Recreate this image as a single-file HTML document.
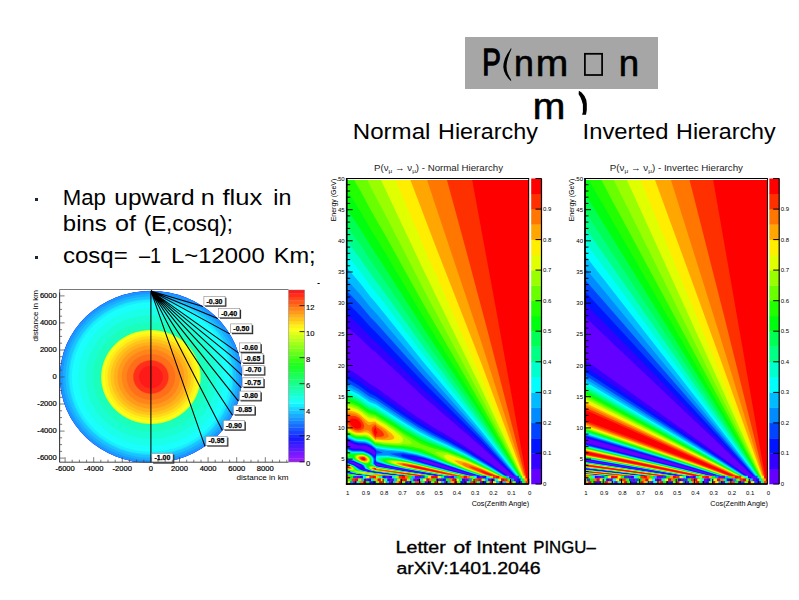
<!DOCTYPE html>
<html><head><meta charset="utf-8"><title>slide</title>
<style>
html,body{margin:0;padding:0;background:#fff;}
body{width:799px;height:600px;overflow:hidden;position:relative;}
svg{position:absolute;left:0;top:0;font-family:"Liberation Sans", sans-serif;}
</style></head><body>
<svg width="799" height="600" viewBox="0 0 799 600">
<rect x="465" y="37" width="193" height="52" fill="#a6a6a6"/>
<rect x="584.9" y="53.8" width="17.2" height="21.2" fill="none" stroke="#000" stroke-width="1.75"/>
<path d="M511.2,47.8L509.6,50.5L507.2,54L505,58.5L503.6,63.5L503.3,67L504,71L505.8,75L508.3,78.5L511.2,81.2L511,79.5L509.5,77L507.8,73.5L506.8,70L506.5,66L507,62L508.2,57.5L509.8,53L511.3,49.5Z"/>
<path d="M578.9,90.8L581.6,92.6L584.5,96L586.3,100L586.8,104L586.8,110L586,114.8L582.1,114.8L582.9,112L582.9,104.5L581.7,100.5L580.3,97L578.6,94.3Z"/>
<text transform="matrix(0.7756,0,0,1.0151,482.15,75.04)" font-size="36" stroke="#000" stroke-width="1.3">P</text>
<text transform="matrix(0.9937,0,0,1.0150,513.91,75.55)" font-size="36" stroke="#000" stroke-width="0.6">n</text>
<text transform="matrix(1.0846,0,0,1.0150,535.83,75.55)" font-size="36" stroke="#000" stroke-width="0.6">m</text>
<text transform="matrix(1.0188,0,0,1.0150,618.86,75.55)" font-size="36" stroke="#000" stroke-width="0.6">n</text>
<text transform="matrix(1.0846,0,0,1.0250,532.63,118.74)" font-size="36" stroke="#000" stroke-width="0.6">m</text>
<text transform="matrix(1.1255,0,0,1.0000,352.83,138.70)" font-size="21.4">Normal</text>
<text transform="matrix(1.0897,0,0,1.0000,438.09,138.70)" font-size="21.4">Hierarchy</text>
<text transform="matrix(1.1108,0,0,0.9950,582.58,138.72)" font-size="21.4">Inverted</text>
<text transform="matrix(1.0886,0,0,0.9950,676.09,138.72)" font-size="21.4">Hierarchy</text>
<text transform="matrix(1.0318,0,0,1.0000,62.69,205.00)" font-size="21.5">Map</text>
<text transform="matrix(1.1395,0,0,1.0000,114.29,205.00)" font-size="21.5">upward</text>
<text transform="matrix(1.1667,0,0,1.0000,200.75,205.00)" font-size="21.5">n</text>
<text transform="matrix(1.1879,0,0,1.0000,222.50,205.00)" font-size="21.5">flux</text>
<text transform="matrix(1.0836,0,0,1.0000,273.27,205.00)" font-size="21.5">in</text>
<text transform="matrix(1.1141,0,0,1.0300,62.83,230.87)" font-size="21.5">bins</text>
<text transform="matrix(1.1706,0,0,1.0300,115.03,230.87)" font-size="21.5">of</text>
<text transform="matrix(1.0381,0,0,1.0300,143.80,230.87)" font-size="21.5">(E,cosq);</text>
<text transform="matrix(1.1179,0,0,0.9897,62.98,262.95)" font-size="21.5">cosq=</text>
<text transform="matrix(0.9275,0,0,0.9897,138.90,262.95)" font-size="21.5">–1</text>
<text transform="matrix(1.1107,0,0,0.9897,171.06,262.95)" font-size="21.5">L~12000</text>
<text transform="matrix(1.0986,0,0,0.9897,273.68,262.95)" font-size="21.5">Km;</text>
<text transform="matrix(1.1550,0,0,0.9846,395.56,552.55)" font-size="17" stroke="#000" stroke-width="0.35">Letter</text>
<text transform="matrix(1.2364,0,0,0.9846,453.38,552.55)" font-size="17" stroke="#000" stroke-width="0.35">of</text>
<text transform="matrix(1.1683,0,0,0.9846,476.35,552.55)" font-size="17" stroke="#000" stroke-width="0.35">Intent</text>
<text transform="matrix(0.9880,0,0,0.9846,533.27,552.55)" font-size="17" stroke="#000" stroke-width="0.35">PINGU–</text>
<text transform="matrix(1.1440,0,0,0.9615,396.43,574.26)" font-size="17" stroke="#000" stroke-width="0.35">arXiV:1401.2046</text>
<rect x="35" y="198" width="3" height="3" fill="#1c2733"/>
<rect x="35" y="256" width="3" height="3" fill="#1c2733"/>
<rect x="346.7" y="180" width="182" height="304" fill="#6300ff"/>
<path fill="#3300ff" d="M346.9,180 528.7,180 528.7,484 521.7,484 481.4,446.8 423.4,396.8 375.9,352.6 369.9,347.7 359.9,337.7 346.7,326.4ZM346.9,367.9 358.9,375.5 369.9,384.1 376,387.4 402.9,407.1 417.9,417.5 432,426.4 448,435.8 465.4,446.7 491.9,464.6 519.5,484 505.6,484 465.9,472.6 429.6,461.3 423.9,459.8 418.9,459.2 418.2,459.3 419.4,460.3 424.4,462.3 447.7,469.3 502.9,483.5 503.3,484 489.5,484 487.9,483.7 487.2,484 473.3,484 471.9,483.7 471,484 457.1,484 455.9,483.7 454.9,484 441,484 439.9,483.7 438.7,484 424.9,484 423.9,483.7 408.7,484 407.4,483.7 406.5,484 392.6,484 391.4,483.7 390.3,484 376.5,484 375.4,483.7 374.4,484 360.8,484 359.9,483.7 358.6,484 346.7,484 346.7,483.3 348.4,483.3 346.7,483.2 346.7,478.8 348.8,478.8 346.7,478.7 346.7,476.4 348.3,476.3 346.7,476.2 346.7,471.9 347.5,471.8 346.7,471.4 346.7,446.1 352.8,448.4 359.9,448.4 363.4,449 369.4,451.7 374.4,455.1 375,454.8 375.4,453.4 374.9,451.5 373.9,450.3 368.8,446.9 365.4,445.8 359.9,445.7 355.4,444.8 346.7,441.2ZM349.5,461.8 350.4,463 354.4,464.6 356.6,465.8 360.4,467.2 361.2,466.8 360.3,465.3 354.2,462.3 350.9,461.4 349.9,461.4ZM375.6,462.8 375.4,463.8 376.4,465.5 388,467.8 467.9,480.8 474.3,481.3 402.4,469.1 386.9,466 376.4,463.5 375.9,462.7ZM362.5,469.3 365,470.8 375.5,472.8 418.2,477.8 422.4,478.1 422.5,477.8 375.4,472.1 367.9,470.5 363.5,469.2ZM474.3,481.8 477.3,481.8 474.4,481.5Z"/>
<path fill="#0014ff" d="M346.9,180 528.7,180 528.7,484 522.3,484 481.4,443.3 423.2,389.1 376,341.9 369.9,336.6 359.9,325.9 346.7,313.6ZM346.9,374.3 359,381.4 369.8,389.6 376,392.7 402.9,411.6 417.8,421.5 431.8,429.9 447.9,438.8 465.4,449.1 491.4,465.6 519,484 506.1,484 465.4,472 425.7,459.3 417.2,457.3 409.9,456.5 408.1,456.8 411.8,458.8 425.3,463.3 447.9,469.8 502,483.5 502.8,484 490,484 409.4,470 382.4,464.5 376.4,462.9 375.4,461.6 374.7,462.8 375.1,464.3 376.4,465.9 378.5,466.3 404,470.8 485.9,483.5 486.7,484 473.8,484 471.4,483.6 470.5,484 457.6,484 455.4,483.7 454.4,484 441.5,484 439.4,483.7 438.2,484 425.4,484 423.4,483.7 422.1,484 409.2,484 407.4,483.7 406,484 393.1,484 391.4,483.7 389.8,484 377,484 375.9,483.7 373.9,484 361.3,484 360.4,483.6 358.1,484 346.7,484 346.7,483.4 348.9,483.3 346.7,483.2 346.7,480.3 347.5,480.3 346.7,480.2 346.7,478.8 349.6,478.8 346.7,478.7 346.7,476.5 358,477.8 363.9,477.8 346.7,476.1 346.7,472.5 350.8,473.8 366.4,475.8 403.2,479.3 408.7,479.3 378,476.5 360.4,474.5 350.5,472.7 346.7,470.8 346.7,447 352.9,449.4 360.4,449.6 363.9,450.2 369.4,452.6 374.9,456.7 375.5,456.1 376,453.4 375.7,451.4 374.7,449.9 371.9,447.6 368.9,445.8 364.9,444.6 359.4,444.3 355.4,443.5 346.7,440ZM349.4,460.8 348.2,461.3 348,461.8 350.1,463.3 354.9,465.3 362.7,470.3 368.4,471.8 378.2,473.3 434.8,479.8 452.6,481.8 456.9,481.8 373.4,471.5 365.5,469.5 363.5,468.3 362,465.8 360.6,464.8 352.9,461.3Z"/>
<path fill="#0044ff" d="M346.9,180 528.7,180 528.7,484 522.6,484 481.4,440.3 424,383.1 375.9,332.2 370.2,326.8 359.9,315.2 346.7,302.1ZM346.9,378.8 358.4,385.3 369.8,393.5 375.9,396.5 402.9,414.9 417.8,424.4 432.5,432.9 447.9,440.9 465.9,451 491.4,466.5 518.6,484 506.5,484 465.4,471.6 423.9,458.1 411.9,455.4 403,454.2 401,454.8 400.7,455.3 401.9,456.3 404.2,457.3 423.6,463.3 448.6,470.3 501.9,483.6 502.4,484 490.3,484 402.9,468.6 387.4,465.4 376.4,462.5 375.4,460 374.9,460.2 374.2,463.3 375.1,464.8 376.4,466.2 377.1,466.3 402.8,470.8 485.4,483.5 486.3,484 474.2,484 470.4,483.5 470.1,484 458,484 455.4,483.6 454,484 441.9,484 439.4,483.7 437.8,484 425.8,484 423.4,483.7 421.7,484 409.6,484 407.9,483.7 405.6,484 393.5,484 391.9,483.7 389.4,484 377.4,484 376,483.6 373.5,484 361.7,484 360.9,483.6 357.7,484 346.7,484 346.7,483.5 349.3,483.3 346.7,483.1 346.7,480.3 348.1,480.3 346.7,480.2 346.7,478.9 350.2,478.8 346.7,478.6 346.7,476.6 375.5,479.3 383.9,479.8 388.8,479.8 365.4,478 346.7,475.9 346.7,472.8 350,473.8 356.4,474.8 379.9,477.3 425.3,481.3 431,481.3 378.9,476.5 361.4,474.5 352.9,473 350.4,472.4 346.7,470.6 346.7,462.3 354.4,465.4 361.9,470.3 370.4,472.3 465.6,483.3 470,483.3 374.4,471.5 365.4,469.1 363.9,467.8 362.8,465.8 361.6,464.8 353.4,461.1 349.9,460.3 346.7,461.1 346.7,447.8 350.1,449.4 353,450.2 360.5,450.3 364.4,451 370.4,453.9 372.7,455.8 374.9,458.7 375.4,458.2 375.9,456 376.3,452.4 376,450.5 374.9,449.2 371.9,446.7 368.8,444.9 364.9,443.7 358.9,443.2 354.9,442.5 346.7,439.1Z"/>
<path fill="#008bff" d="M346.9,180 528.7,180 528.7,484 523,484 481.4,437.3 424,376.6 375.9,322.7 370.4,317.2 360,304.7 346.7,290.8ZM346.9,382.5 358.4,388.7 369.4,396.6 375.9,399.6 403,417.6 418.7,427.4 432.3,434.9 448,442.7 465.5,452.1 490.9,467 518.2,484 506.8,484 465.4,471.3 423.9,457.4 414.9,455.1 405.5,453.4 402.9,453 389.9,453.4 391.6,454.3 402.9,457.8 447.5,470.3 501.5,483.6 502.1,484 490.7,484 402.9,468.4 387.4,465.1 376.5,462 375.9,458.8 376.4,453.8 382.5,452.9 382.3,452.4 376.4,450.3 375.4,448.8 372.9,446.6 367.9,443.7 364.9,442.8 358.9,442.4 354.9,441.6 346.7,438.2ZM346.9,448.4 349.9,450 352.9,450.9 360.4,450.9 363.9,451.4 369.4,453.9 371.9,455.8 373.5,457.8 374.1,459.8 373.8,463.8 376.4,466.4 405,471.3 485,483.5 485.9,484 474.5,484 386.4,473 375.4,471.6 370.4,470.5 365.4,468.8 363.5,465.8 362.3,464.8 353.9,460.9 349.9,459.8 346.7,460.5ZM346.9,462.8 354.4,465.7 361.2,470.3 369.6,472.3 393.5,475.3 468.9,483.5 469.8,484 458.4,484 454.9,483.6 453.9,483.6 453.6,484 442.2,484 439.4,483.6 437.5,484 426.1,484 423.4,483.6 421.4,484 410,484 407.9,483.7 405.2,484 393.8,484 391.9,483.6 389.1,484 377.7,484 377.4,483.6 376.4,483.6 373.2,484 362,484 362.4,483.6 366.5,483.3 364.9,483.1 361.5,483.3 357.4,484 346.7,484 346.7,483.6 349.7,483.3 346.7,483.1 346.7,480.4 348.5,480.3 346.7,480.2 346.7,478.9 358.4,479.8 364.5,479.8 346.7,478.6 346.7,476.8 395.6,480.8 402.5,480.8 377.4,478.9 350.4,476.3 346.7,475.8 346.7,473.1 355.7,474.8 379.2,477.3 442.1,482.8 447.6,482.8 379.9,476.5 355.9,473.5 350.4,472.2 346.7,470.3Z"/>
<path fill="#00bbff" d="M346.9,180 528.7,180 528.7,484 523.3,484 481.5,434.2 423.7,369.6 375.9,313.1 370.4,307.2 360.4,294.7 346.7,279.4ZM346.9,385.7 358.4,391.7 369.4,399.4 375.9,402.2 402.9,420 418.5,429.4 432.5,436.9 447.9,444.2 465.4,453.2 491.4,468 517.9,484 507.1,484 465.4,471 429.9,458.6 417.4,454.9 402.9,452 385.4,450.7 376.5,448.9 371.4,444.8 367.9,442.9 364.9,442.1 358.9,441.6 354.9,440.9 346.7,437.4ZM346.9,449 351.9,451.3 362.9,451.7 369,454.1 371.3,455.8 372.9,457.8 373.5,459.8 373.3,463.8 376.4,466.6 404.1,471.3 485,483.6 485.6,484 474.8,484 386.9,473 376,471.5 370.9,470.5 365.5,468.5 364.1,465.8 363.1,464.8 353.9,460.5 349.9,459.4 346.7,460ZM376.5,455.2 387.4,455.1 396.9,457 448.5,470.8 501,483.5 501.8,484 491,484 407.4,469.1 390.4,465.5 376.4,461.4 376.1,458.8ZM346.9,463.2 353.9,465.7 358.6,469.3 360.5,470.3 368.9,472.3 392.8,475.3 468.5,483.5 469.5,484 458.7,484 458.4,483.7 453.5,483.5 453.3,484 442.6,484 439,483.6 437.4,483.7 437.2,484 426.4,484 423.4,483.6 421.1,484 410.3,484 407.9,483.6 404.9,484 394.2,484 393.9,483.7 392.4,483.6 388.8,484 378,484 377.9,483.5 372.9,484 362.3,484 362.9,483.6 366.8,483.3 364.9,483.1 361.2,483.3 357.1,484 346.7,484 346.7,483.7 350.4,483 355.7,482.8 351.5,482.6 346.7,483.1 346.7,480.4 349,480.3 346.7,480.2 346.7,479 372.9,480.8 379.5,480.8 346.7,478.5 346.7,476.8 388.1,480.3 416.9,482.3 422.7,482.3 378.4,479 351.4,476.4 346.7,475.7 346.7,473.3 355,474.8 378.6,477.3 447.9,483.3 453.3,483.3 376.4,476 355.9,473.4 350.4,472 346.7,470.1Z"/>
<path fill="#00fffc" d="M346.9,180 528.7,180 528.7,484 523.6,484 481.4,431 424.1,363.1 375.9,303 370.4,296.8 360.4,283.6 346.7,267.4ZM346.9,388.5 358.4,394.3 369.4,402 375.9,404.6 403,422.1 418.6,431.4 432.2,438.4 447.9,445.5 465.4,454.2 491.5,468.6 517.6,484 507.4,484 465.4,470.7 447.9,464.7 429,457.7 417.4,454.2 403,451.2 385.4,449.6 376.4,447.9 370.9,443.8 367.9,442.2 364.9,441.3 358.9,440.9 354.9,440.2 346.7,436.6ZM346.9,449.5 349.9,451.2 351.9,451.9 362.4,452.1 364.4,452.5 368.4,454.3 370.9,456.2 372.6,458.3 373,460.3 372.6,463.3 373,464.3 376.4,466.8 403.2,471.3 484.4,483.6 485.3,484 475.1,484 391.4,473.5 371.9,470.6 365.8,468.3 364.4,465.5 363.7,464.8 355.9,461.4 353.4,459.9 349.9,459 346.7,459.6ZM376.9,456.3 387.4,456.1 398.9,458.1 447.6,470.8 500.9,483.6 501.5,484 491.3,484 410.9,469.5 395.4,466.4 387,464.4 376.5,460.8 376.3,457.3 376.4,456.4ZM346.9,463.5 349.4,464.1 353.9,466 357.9,469.3 359.8,470.3 368.3,472.3 387.7,474.8 467.9,483.5 469.2,484 459,484 458.4,483.7 376.4,476 356.9,473.4 350.4,471.7 348.9,470.7 346.7,469.9ZM346.9,473.4 354.3,474.8 378,477.3 451.9,483.5 453,484 442.8,484 442.4,483.7 438.4,483.6 436.9,483.7 436.9,484 426.7,484 426.4,483.7 423.4,483.6 420.9,483.7 420.8,484 410.6,484 410.4,483.7 407.9,483.6 404.9,483.7 404.6,484 394.5,484 392.9,483.6 388.9,483.7 388.5,484 378.3,484 378.9,483.6 384.1,483.3 381.9,483.1 372.9,483.7 372.6,484 362.6,484 362.9,483.7 367.1,483.3 365.9,483 360.9,483.2 356.8,484 346.7,484 346.7,483.7 350.9,483.1 356,482.8 351.4,482.6 346.7,483 346.7,480.5 349.4,480.3 346.7,480.1 346.7,479 388.4,481.8 395.4,481.8 346.7,478.5 346.7,476.9 374.4,479.3 423.4,482.8 429.7,482.8 378.9,478.9 355.9,476.8 346.7,475.6Z"/>
<path fill="#00ffcc" d="M346.9,180 528.7,180 528.7,484 523.9,484 481.4,427.7 424,355.7 375.9,292.3 370.4,285.7 360.4,271.7 346.7,254.6ZM346.9,391.1 358.4,396.6 369.4,404.2 375.9,406.7 376.4,407.3 402.9,424 419,433.4 432,439.9 448,446.8 465.5,455.1 490.4,468.5 517.4,484 507.7,484 465.4,470.5 447.9,464.3 429.4,457.2 417.9,453.6 402.9,450.4 385.4,448.6 375.9,447 371.4,443.4 367.9,441.5 364.9,440.6 358.9,440.2 354.9,439.5 346.7,435.8ZM346.9,450 349.9,451.8 352,452.5 362.4,452.5 364.4,452.9 368.4,454.8 370.9,456.8 372.2,458.8 372.5,460.3 372.1,463.3 372.4,464.3 376.4,467 402.9,471.4 484.4,483.6 485.1,484 475.4,484 474.9,483.7 391.9,473.4 372.4,470.6 367.2,468.8 365.4,467.4 364.9,465.6 363.9,464.5 355.9,461.1 353.4,459.5 349.9,458.6 346.7,459.2ZM381.4,456.8 388.9,457 402.9,459.4 448.8,471.3 500.4,483.5 501.2,484 491.6,484 411.4,469.5 395.9,466.3 384.5,463.3 379.1,461.3 376.4,459.8 376.4,457.7ZM346.9,463.7 348.9,464.1 353.9,466.3 357.3,469.3 359.2,470.3 367.6,472.3 387,474.8 467.9,483.6 468.9,484 459.3,484 458.4,483.7 376.5,475.9 357.4,473.4 351.3,471.8 346.7,469.8ZM346.9,473.6 353.9,474.8 377.5,477.3 451.9,483.6 452.7,484 443.1,484 442.4,483.7 437.4,483.5 436.6,484 427,484 426.4,483.7 422.9,483.6 420.9,483.6 420.5,484 410.9,484 410.4,483.7 408,483.6 404.9,483.7 404.4,484 394.7,484 394.4,483.5 393.9,483.5 389,483.7 388.2,484 378.6,484 379.4,483.6 384.4,483.3 381.9,483.1 377.9,483.2 372.3,484 362.9,484 363.4,483.6 367.9,483 374.4,482.8 370.9,482.6 360.9,483.2 356.5,484 347.2,484 351.4,483.1 356.3,482.8 351.9,482.6 346.7,483 346.7,481.8 354.7,481.8 346.7,481.7 346.7,480.5 359.4,481.4 366.4,481.3 346.7,480.1 346.7,479.1 396.4,482.3 403.6,482.3 346.7,478.4 346.7,476.9 374.4,479.3 430.4,483.4 436.6,483.3 379.4,478.9 356.4,476.8 346.7,475.5Z"/>
<path fill="#00ff85" d="M346.9,180 528.7,180 528.7,484 524.1,484 481.4,424 424.8,348.7 383.9,291.7 370.4,273.6 360.4,259 346.7,240.8ZM346.9,393.4 357.9,398.5 369.4,406.4 375.9,408.6 376.4,409.3 403,425.9 418.9,435.1 431.5,441.1 447.9,447.9 465.4,456 490.4,469 517.1,484 508,484 465.4,470.2 447.9,463.9 429.5,456.5 417.4,452.7 402.9,449.5 385.4,447.8 375.9,446.3 370.9,442.3 367.9,440.7 364.9,439.9 359.4,439.6 355.5,438.9 346.7,435.1ZM346.9,450.5 349.9,452.4 351.9,453.1 362.4,452.9 364.4,453.3 367.9,454.9 370.4,456.8 371.8,458.8 372,460.3 371.5,463.3 371.7,464.3 376.4,467.2 404.9,471.8 484,483.6 484.8,484 475.7,484 474.9,483.7 396.4,473.9 372.9,470.6 367.8,468.8 366.4,467.8 364.4,464.4 355.9,460.8 353.5,459.1 349.9,458.2 346.7,458.8ZM380.9,457.8 387.9,457.5 402.9,459.9 448,471.3 500.5,483.6 500.9,484 491.8,484 402.9,467.7 388.7,464.3 381.6,461.8 378.9,460.3 378.1,459.3 378.8,458.3ZM347,463.9 349.4,464.5 353.5,466.3 354.9,467.3 356.4,469.1 358.5,470.3 367.4,472.4 386.4,474.8 467.4,483.6 468.6,484 459.5,484 458.9,483.7 376.4,475.8 357.9,473.4 351.9,471.8 346.7,469.6ZM346.9,473.8 353.9,474.9 376.9,477.3 451.4,483.6 452.5,484 443.4,484 442.4,483.6 367.9,477.9 346.7,475.4ZM346.9,477 374.4,479.4 435.4,483.5 436.3,484 427.3,484 426.4,483.6 422.9,483.5 420.4,483.7 420.2,484 411.1,484 410.9,483.7 408.4,483.5 404.9,483.6 404.1,484 395,484 395.4,483.6 402.1,483.3 398.4,483.1 388.9,483.6 388,484 378.9,484 379.4,483.6 384.7,483.3 382.9,483 377.9,483.1 372.1,484 363.2,484 363.4,483.7 368.5,483.1 374.7,482.8 371.4,482.6 360.9,483.2 356.3,484 347.4,484 348.4,483.6 356.9,482.6 364.8,482.3 357.4,482.1 346.7,483 346.7,481.9 355,481.8 346.7,481.6 346.7,480.6 367.9,481.9 375.2,481.8 346.7,480.1 346.7,479.1 404.5,482.9 411.7,482.8 346.7,478.4Z"/>
<path fill="#00ff55" d="M346.9,180 528.7,180 528.7,484 524.4,484 481.4,420 424.9,340.2 384.4,280.4 370.5,260.5 360.5,244.9 346.7,225.7ZM346.9,395.6 357.9,400.6 369.4,408.4 375.9,410.5 376.4,411.1 392.9,421.1 402.9,427.7 419.4,437.1 431.4,442.6 447.9,449 465.4,456.8 490.5,469.5 516.8,484 508.2,484 465.4,469.9 447.6,463.3 430.4,456.2 419.9,452.5 402.9,448.7 393.9,448 375.9,445.6 370.9,441.6 367.9,440 364.9,439.1 359.4,438.9 355.4,438.2 346.7,434.3ZM346.9,451 350,453.1 351.9,453.8 362,453.3 364.4,453.7 367.4,455.1 369.9,456.8 371.3,458.8 371.5,460.8 370.8,463.3 370.9,464.3 376.4,467.3 404.1,471.8 483.9,483.6 484.5,484 475.9,484 475.4,483.7 400.9,474.4 373.4,470.6 368.3,468.8 367,467.8 366.3,465.8 364.9,464.3 355.9,460.4 352.9,458.3 349.9,457.6 346.7,458.5ZM383.4,458.3 389.9,458.2 402.9,460.2 449.3,471.8 499.9,483.6 500.7,484 492.1,484 491.4,483.6 402.9,467.5 387.4,463.6 383,461.8 380.7,460.3 380.4,459.6 380.9,459ZM346.9,464.2 348.9,464.6 353,466.3 354.9,467.7 355.9,469.2 357.9,470.3 366.9,472.4 385.9,474.8 467.4,483.6 468.4,484 459.8,484 459,483.6 376.9,475.8 357.9,473.3 354,472.3 346.7,469.4ZM346.9,473.9 353.9,475 376.9,477.3 450.9,483.6 452.2,484 443.7,484 442.4,483.6 365.4,477.6 346.7,475.3ZM346.9,477 374.4,479.4 434.9,483.6 436.1,484 427.5,484 427,483.6 421.9,483.5 420.4,483.5 420,484 411.4,484 410.9,483.5 409.4,483.5 404.4,483.6 403.8,484 395.3,484 395.9,483.6 402.4,483.3 398.4,483 388.4,483.6 387.7,484 379.1,484 379.4,483.7 385.4,483.1 393.4,482.8 386.9,482.5 377.4,483.2 372,483.7 371.8,484 363.4,483.8 375,482.8 367.9,482.6 360.4,483.2 356,484 347.7,484 352,483.1 365.1,482.3 357.4,482.1 346.7,482.9 346.7,482 355.3,481.8 346.7,481.5 346.7,480.6 366.9,481.9 374.4,482 375.9,482.5 384.4,482.3 346.7,480 346.7,479.1 403.9,482.9 411,483 412.4,483.5 419.8,483.3 346.7,478.3Z"/>
<path fill="#00ff0e" d="M346.9,180 528.7,180 528.7,484 524.7,484 481.5,415.5 425.4,331.3 384.4,266.9 371,246.5 360.4,229.2 346.7,208.7ZM346.9,397.8 357.9,402.5 369.4,410.3 375.9,412.2 376.4,412.9 393.4,423.1 402.9,429.5 419.9,439.1 430.4,443.8 447.9,450.1 465.4,457.6 489.4,469.5 516.6,484 508.5,484 474.8,472.8 450.1,463.8 430.9,455.5 419.9,451.5 412.4,449.6 402.9,447.8 395.4,447.3 384,446 376.4,444.7 375.9,444.9 370.9,440.9 367.4,439 364.9,438.4 356.9,437.8 353.9,437 350.5,435.5 346.7,433.5ZM346.9,451.6 349.9,453.9 351.9,454.7 353.9,454.6 355.9,453.9 361.5,453.6 364.4,454.1 367.4,455.5 369.8,457.3 371,459.3 371,460.8 369.9,463.8 369.9,464.6 375.4,466.7 376.4,467.5 483.5,483.6 484.3,484 476.2,484 475.4,483.6 396.9,473.8 373.4,470.4 369.8,469.3 368,468.3 367.3,467.3 367.3,465.3 366.8,464.8 356.4,460.3 352.4,457.4 349.9,457 346.7,458.1ZM386,458.8 393.4,459.1 405.4,461.1 448.5,471.8 499.9,483.6 500.4,484 492.3,484 492,483.7 402.9,467.3 387.5,463.3 384.3,461.8 382.6,460.3 382.7,459.8 383.4,459.3ZM346.9,464.4 349.4,464.9 353.4,466.8 354.6,467.8 355.9,469.7 357.2,470.3 366.9,472.5 385.9,474.9 467.5,483.6 468.1,484 460,484 458.9,483.6 377.4,475.8 361.6,473.8 355.9,472.8 346.7,469.3ZM346.9,474.1 376.4,477.3 450.9,483.6 452,484 443.9,484 442.9,483.6 368.4,477.8 350.4,475.9 346.7,475.2ZM346.9,477.1 379.9,479.9 434.9,483.6 435.8,484 427.8,484 426.9,483.6 420.4,483.4 346.7,478.3ZM346.9,479.2 411.3,483.3 404.4,483.6 403.6,484 395.5,484 396.4,483.6 402.6,483.3 394.9,483 387.9,483.7 387.4,484 379.4,484 379.9,483.7 385.9,483.1 393.7,482.8 346.7,480ZM346.9,480.6 374.9,482.3 360.9,483.1 355.8,484 347.9,484 352.4,483.1 365.4,482.3 356.4,482 346.7,482.9 346.7,482.1 355.7,481.8 346.7,481.4ZM375.4,482.6 384.3,482.8 377.4,483.1 371.9,483.7 371.6,484 363.7,484 364.4,483.6ZM412,483.6 418.9,483.5 419.7,484 411.6,484Z"/>
<path fill="#22ff00" d="M346.9,180 528.7,180 528.7,484 524.9,484 481.4,410.4 426,321.3 384.5,251.6 371,229.8 360.9,212.2 346.7,189.5ZM346.9,399.8 357.9,404.4 368.9,411.9 375.9,413.9 376.4,414.6 393.4,424.8 402.9,431.3 419.9,441 432.5,446.2 448,451.1 465.4,458.3 489,469.6 516.3,484 508.8,484 468.3,470.3 447.9,462.5 431,454.5 420.4,450.5 412.9,448.6 402.9,446.8 395.5,446.4 383.9,445.2 376.4,443.9 375.9,444.2 370.4,439.8 367.4,438.2 364.9,437.6 356.9,437.1 354.4,436.5 350.9,434.9 346.7,432.7ZM346.9,452.1 348.9,453.8 349.8,455.3 349.2,456.3 346.7,457.7ZM356.4,454.3 362.9,454.1 367.4,455.9 369.3,457.3 370.3,458.8 370.6,460.3 369.9,462.3 368.9,463.5 367.9,464 365.4,463.8 355.9,459.7 353.3,456.3 354.3,455.3ZM386.9,459.3 394.9,459.8 406.4,461.7 448,471.8 500.2,484 492.6,484 491.9,483.6 402.9,467.1 387.4,462.8 384.7,460.8 384.7,460.3 385.3,459.8ZM346.9,464.6 349.5,465.1 353,466.8 356.5,470.3 366.4,472.5 385.4,474.9 467,483.6 467.8,484 460.3,484 459.5,483.6 377.6,475.8 362.3,473.8 355.9,472.6 346.7,469.1ZM368.9,465.8 371.9,465.9 374.9,466.7 376.4,467.7 387.4,469.5 483.4,483.7 484,484 476.4,484 475.4,483.6 375.9,470.9 371.6,469.8 368.6,468.3 368,466.8ZM346.9,474.3 376.4,477.4 451,483.6 451.7,484 444.2,484 443,483.6 369,477.8 350.4,475.8 346.7,475ZM346.9,477.1 380,479.9 434.5,483.6 435.6,484 428,484 427.4,483.5 420.9,483.4 348.4,478.4 346.7,478.2ZM346.9,479.2 402.7,482.8 394.4,482.9 393.4,482.6 385.9,482.4 352.4,480.4 346.7,480ZM346.9,480.7 365.5,481.8 357.5,482 354.9,481.5 346.7,481.3ZM346.9,482.2 355.4,482.3 346.7,482.9ZM365.9,482.1 374.6,482.3 366.4,482.5 356.4,483.6 355.5,484 348.2,484 352.4,483.2 364.9,482.5ZM375.9,482.6 384,482.8 376.9,483.1 371.9,483.6 371.3,484 363.9,484 364.4,483.7ZM385.9,483.2 393.7,483.3 387.9,483.6 387.2,484 379.7,484 379.9,483.7ZM403,483.2 411.1,483.3 403.9,483.5 403.3,484 395.8,484 396.4,483.6ZM411.9,483.7 417.9,483.5 419.4,484 411.9,484Z"/>
<path fill="#69ff00" d="M354.4,180 528.7,180 528.7,484 525.2,484 481.9,405.4 423.8,304.8 385,234.8 370.9,210.5 361.4,192.5 354.2,180.2ZM346.9,401.8 357.9,406.2 369,413.8 371.4,414.6 375.9,415.5 376.5,416.3 395.6,427.9 402.9,433.2 420.9,444 431,447.7 447.9,452.2 465.4,459 488.9,470.1 516.1,484 509,484 465.5,469 447.8,461.8 428.9,452.1 420.9,448.8 413.4,447.1 402.9,445.6 395.4,445.5 384,444.4 376.5,443.1 375.9,443.5 370.4,438.9 367.4,437.4 364.9,436.8 357.4,436.5 354.9,435.9 351.9,434.6 346.7,431.8ZM346.9,452.7 348.1,453.8 348.6,455.3 348.2,456.3 346.7,457.2ZM356.9,454.8 362.9,454.5 366.9,456.1 368.7,457.3 369.8,458.8 370.1,460.3 369.6,461.8 367.9,463.2 365.5,463.3 360.9,461.8 356.9,459.8 355.9,459.2 354.6,456.8 355.9,455ZM386.9,460.3 389.4,459.9 393.9,460.1 406.4,462 499.9,484 492.9,484 492,483.6 404.7,467.3 394.8,464.8 388.7,462.8 386.5,461.3ZM346.9,464.8 349.4,465.3 352.5,466.8 353.8,467.8 355.6,470.3 363.5,472.1 375.4,473.9 466.9,483.7 467.6,484 460.6,484 459.4,483.6 378.2,475.8 362.9,473.8 356,472.5 352.9,471 346.7,469ZM369.9,466.2 372.9,466.4 375.5,467.1 376.4,467.8 387.4,469.6 483.4,483.7 483.7,484 476.7,484 475.9,483.6 375.9,470.8 372.1,469.8 369.1,468.3 368.6,467.3 368.9,466.7ZM346.9,474.8 450.4,483.6 451.4,484 444.4,484 443.5,483.6 374.9,478.3 350.6,475.8 348.4,474.9 346.7,474.8ZM346.9,477.1 379.5,479.9 428.1,483.3 421.4,483.4 361.9,479.4 346.7,478.2ZM346.9,479.3 394,482.3 386.4,482.4 384.9,482 346.7,480ZM346.9,480.7 356,481.3 347.9,481.4 346.7,481.3ZM356.4,481.6 365.1,481.8 358.9,481.9ZM347.4,482.2 355.1,482.3 346.7,482.8 346.7,482.3ZM366.4,482.1 374.3,482.3 366,482.3ZM357.9,482.7 365.6,482.8 359.9,483.1 355.4,483.7 355.3,484 348.4,484 351.9,483.3ZM375.9,482.7 383.7,482.8 376.4,483.1 371.4,483.7 371,484 364.2,484 364.9,483.7ZM394.4,482.6 402.4,482.8 395.9,482.9ZM385.9,483.2 393.4,483.3 387.4,483.6 386.9,484 379.9,484 380.4,483.7ZM403.4,483.2 410.8,483.3 403.9,483.5 403.2,483.3ZM396.4,483.7 402.4,483.5 402.9,483.6 403.1,484 396,484ZM412.4,483.7 417.9,483.6 419.2,484 412.2,484ZM428.5,483.6 434,483.6 435.3,484 428.3,484Z"/>
<path fill="#99ff00" d="M367.4,180 528.7,180 528.7,484 525.4,484 481.4,397.5 425.5,292.9 384.9,213.9 370.9,187.6ZM347,403.8 357.9,407.9 368.9,415.6 370.9,416.3 375.9,417.1 376.4,417.9 385.2,423 399.5,432.4 409.6,440.4 411.4,442.4 411.6,443.4 411,443.9 409.4,444.2 402.9,444.1 401.4,444.5 397.9,444.5 384.4,443.6 376.4,442.3 375.9,442.7 370.5,438 368,436.6 364.9,435.9 359.4,435.9 355.5,435.3 352.1,433.9 346.7,430.9ZM435.9,452.1 438.4,452 447.4,453.3 465.5,459.8 488,470 515.8,484 509.3,484 465.4,468.6 447.4,461 437.2,454.3 435.7,452.9ZM346.9,453.4 347.8,455.3 347.3,456.3 346.7,456.6ZM359.4,454.8 363.9,455 367.5,456.8 368.6,457.8 369.5,459.3 369.5,460.8 368.9,461.8 367.4,462.7 364.9,462.8 360.4,461.3 356.1,458.8 355.5,457.3 355.9,455.6ZM389.4,460.7 396.9,460.9 408.4,462.7 447.9,472.2 499.6,484 493.1,484 492.4,483.6 405.7,467.3 391.3,463.3 388.5,461.8 388.3,461.3ZM346.9,465 349.4,465.5 352.8,467.3 353.9,468.8 354.1,470.3 350.4,470 346.7,468.8ZM370,466.8 372.9,466.6 375.4,467.3 376.4,468 386.9,469.7 483.5,484 477,484 476,483.6 375.9,470.6 372.5,469.8 370.2,468.8 369.3,467.8ZM355,470.8 374.9,473.9 466.9,483.7 467.3,484 460.8,484 459.9,483.6 376.4,475.5 358,472.8 355.9,472.3 354.7,471.3 354.6,470.8ZM349.9,475.1 450.4,483.7 451.2,484 444.7,484 443.9,483.5 375.4,478.3 355.9,476.4 349.5,475.3ZM346.9,477.2 378.9,479.9 420.7,482.8 414.4,482.9 361.9,479.3 346.7,478.1ZM346.9,479.3 376.8,481.3 369.9,481.4 346.7,479.9ZM347.4,481.1 355.6,481.3 349.9,481.4ZM356.9,481.7 364.8,481.8 356.7,481.8ZM376.9,481.6 385.2,481.8 379.4,481.9ZM385.9,482.1 393.6,482.3 385.7,482.3ZM346.9,482.5 347.3,482.8 346.7,482.8ZM358.4,482.7 365.3,482.8 359.4,483.1 355.4,483.6 355,484 348.7,484 352.2,483.3ZM376.4,482.7 383.4,482.8 376.1,482.8ZM394.9,482.6 402.1,482.8 394.6,482.8ZM369.4,483.2 375.8,483.3 371.4,483.6 370.8,484 364.4,484ZM386.5,483.2 393.1,483.3 387.4,483.5 386.6,484 380.2,484ZM403.9,483.2 410.5,483.3 403.5,483.3ZM396.4,483.7 402,483.6 402.8,484 396.3,484ZM412.4,483.7 417.4,483.6 418.9,484 412.4,484ZM428.9,483.6 433.9,483.6 435,484 428.6,484Z"/>
<path fill="#e0ff00" d="M381.4,180 528.7,180 528.7,484 525.7,484 482.2,390.6 424.1,271.4 381.1,180.2ZM346.9,405.8 356.9,409.2 360.4,411.2 367.9,417 370.9,418.1 375.4,418.4 376.4,419.5 385.4,424.8 395.3,431.4 400.8,435.9 402.4,437.9 403.1,439.9 402.4,441.9 400,442.9 395.4,443.2 384.4,442.6 376.4,441.4 375.9,441.9 370.4,437 367.9,435.6 364.9,434.8 359.4,435.1 355.4,434.4 352.4,433.2 346.7,429.9ZM346.9,454.6 347,455.3 346.7,455.5ZM446.4,454.8 447.5,454.6 451.7,455.8 468.4,461.8 490.5,471.6 515.5,484 509.6,484 465.4,468.2 447.5,460 444.4,457.3 443.4,455.8 443.9,455.2ZM359.4,455.3 363.4,455.3 366.8,456.8 368.7,458.8 369,460.3 368.6,461.3 367,462.3 364.9,462.5 361.4,461.4 358.3,459.8 356.4,458.3 355.9,456.8 357.3,455.8ZM392.4,461.3 396.4,461.3 402.9,462 409.8,463.3 448.4,472.5 499.4,484 493.4,484 492.4,483.5 406.6,467.3 398.7,465.3 392.8,463.3 391.1,462.3 390.9,461.8ZM346.9,465.2 349.5,465.7 352.3,467.3 353.2,468.3 353.2,469.3 352.4,469.8 350.9,469.8 346.7,468.7ZM370.4,467.1 373.4,466.9 375.4,467.4 376.4,468.2 387.4,469.9 483.2,484 477.3,484 476.5,483.6 375.9,470.5 370.7,468.8 369.9,467.8ZM355.9,471.3 374.4,474 466.4,483.7 467,484 461.1,484 459.9,483.5 376.4,475.4 358.9,472.8 356,471.9ZM350.5,475.2 351.6,475.3 350.1,475.3ZM352.9,475.7 357.7,475.8 444.9,483.3 439.4,483.3 375.4,478.3 355.9,476.3ZM346.9,477.2 378.4,479.9 413.2,482.3 406.9,482.3 361.9,479.3 346.7,478.1ZM346.9,479.4 368.7,480.8 361.9,480.9 346.7,479.9ZM347.9,481.2 355.3,481.3 347.6,481.3ZM357.4,481.7 364.5,481.8 357,481.8ZM347.9,482.2 354.4,482.3 347.7,482.3ZM366.9,482.2 373.7,482.3 366.7,482.3ZM386.4,482.2 393.3,482.3 386,482.3ZM358.4,482.7 365,482.8 358.9,483.1 354.9,483.7 354.7,484 349,484 352.5,483.3ZM413.9,482.6 420.3,482.8 413.5,482.8ZM369.4,483.2 375.6,483.3 371,483.6 370.5,484 364.7,484ZM421.4,483.2 427.5,483.3 421.2,483.3ZM380.9,483.7 385.9,483.5 386.4,484 380.5,484ZM396.9,483.7 401.4,483.6 402.5,484 396.6,484ZM412.9,483.7 417.4,483.6 418.6,484 412.7,484ZM428.9,483.7 433.4,483.6 434.8,484 428.9,484ZM445.4,483.5 450.4,483.7 450.9,484 445,484Z"/>
<path fill="#ffee00" d="M395.4,180 528.7,180 528.7,484 526,484 481.7,378.6 428,257ZM346.9,407.8 357.4,411.2 360.9,413.4 366,417.8 368.9,419.6 371,420.1 374.9,419.9 375.9,420.2 376.4,421.2 385.3,426.4 395.4,433.9 398.6,437.4 399.1,438.9 398.9,439.9 396.9,441.1 393.4,441.6 384.4,441.6 376.4,440.5 375.9,441.1 370.4,435.9 367.9,434.3 364.9,433.7 359.4,434.2 355.4,433.6 352.4,432.3 346.7,428.8ZM359.4,455.8 362.4,455.5 364.9,456.2 367.8,458.3 368.4,459.8 368.2,460.8 366.9,461.8 364.9,462.1 359.9,460.3 357.7,458.8 356.9,457.3 357.8,456.3ZM447.9,456.8 455.8,458.3 469.2,462.8 489.9,471.8 515.2,484 509.9,484 465.5,467.8 455.9,463.3 449.5,459.8 447.4,458.1 447.4,457ZM394,462.2 396.9,461.9 402.9,462.3 410.8,463.8 447.9,472.6 499.1,484 493.7,484 492.9,483.6 410,467.8 402.9,466.3 396.7,464.3 393.7,462.8ZM346.9,465.4 349,465.7 350.9,466.8 352.3,467.8 352.6,468.8 351.9,469.3 350.4,469.4 346.7,468.5ZM371.4,467.2 373.9,467.2 375.4,467.6 376.5,468.4 387.4,470.1 482.9,484 477.5,484 476.4,483.5 411.4,475.3 375.4,470.3 371.2,468.8 370.6,467.8ZM358.9,472.2 466.7,484 461.4,484 460.4,483.5 376.5,475.4 364.9,473.8 358.6,472.3ZM354.9,475.8 438.6,482.8 432.9,482.8 375.6,478.3 356.4,476.3ZM346.9,477.3 377.4,479.9 398.3,481.3 391.9,481.3 362.2,479.3 346.7,478ZM346.9,479.5 360.5,480.3 355.9,480.4 346.7,479.9ZM348.4,481.2 354.9,481.3 348,481.3ZM377.9,481.7 384.5,481.8 377.6,481.8ZM398.9,481.6 405.6,481.8 398.6,481.8ZM348.4,482.2 354.1,482.3 348.1,482.3ZM367.4,482.2 373.4,482.3 367,482.3ZM406.4,482.1 412.8,482.3 406.2,482.3ZM376.9,482.7 382.8,482.8 376.7,482.8ZM352.9,483.2 358.4,483.3 354.9,483.6 354.4,484 349.3,484ZM369.9,483.2 375.3,483.3 370.9,483.5 370.2,484 365,484ZM404.4,483.2 409.9,483.3 404.1,483.3ZM422,483.2 427.2,483.3 421.5,483.3ZM380.9,483.7 385.4,483.6 386.1,484 380.8,484ZM396.9,483.7 401.4,483.6 402.2,484 396.9,484ZM413.4,483.7 417.5,483.7 418.4,484 413,484ZM429.4,483.7 433.4,483.7 434.5,484 429.1,484ZM445.5,483.7 450,483.7 450.6,484 445.3,484Z"/>
<path fill="#ffa700" d="M410.4,180 528.7,180 528.7,484 526.3,484 481.4,363.6 433,239.6ZM346.9,410 354.4,411.8 357.5,413 360.5,415 365.4,419.6 368.4,421.7 370.4,422.2 374.9,421.5 375.9,421.9 376.4,422.9 384.6,427.9 391.5,433.4 393.9,436.4 394.2,437.4 394,438.4 392.6,439.4 390,439.9 383.9,440.3 376.4,439.5 375.9,440.2 374.8,439.4 370.4,434.5 367.9,432.8 364.9,432.3 361,433.1 358,433.1 354.9,432.4 351.9,430.9 346.7,427.5ZM359.4,456.3 361.9,455.9 364.5,456.3 367.1,458.3 367.7,459.3 367.6,460.3 366.7,461.3 364.9,461.7 360.6,460.3 358.5,458.8 358,457.8 358.4,456.8ZM455,460.2 457.9,460.4 465.4,462.2 472.4,464.8 492.3,473.3 514.9,484 510.2,484 473,470.3 465.6,467.3 458.9,463.8 455.2,461.3 454.8,460.8ZM397,462.7 402.9,462.7 414.1,464.8 448.9,473 498.8,484 494,484 493,483.5 413.4,468.3 400.9,465.3 397.1,463.8 396.5,463.3ZM346.9,465.6 349.7,466.3 351.7,467.8 351.7,468.8 350.4,469.1 346.7,468.3ZM371.4,467.8 373.9,467.4 375.4,467.8 376.4,468.6 382.4,469.5 482.6,484 477.9,484 476.9,483.5 412.1,475.3 375.9,470.3 372.6,469.3 371.3,468.3ZM363.4,473.2 365.4,473 372.4,474 461.6,483.3 456.6,483.3 390.5,476.8 376.4,475.3ZM361.9,476.7 367.9,476.8 426.2,481.8 420.4,481.8 401,480.3 376.1,478.3ZM346.9,477.4 376.1,479.8 369.9,479.8 349.8,478.3 346.7,478ZM347,479.6 352.4,479.8 346.7,479.8ZM353.4,480.2 360,480.3 353.2,480.3ZM376.9,480.1 383.4,480.3 376.5,480.3ZM384.4,480.6 390.6,480.8 384,480.8ZM369.9,481.2 375.8,481.3 369.6,481.3ZM378.4,481.7 384,481.8 378,481.8ZM399.4,481.6 405.2,481.8 399,481.8ZM406.9,482.2 412.4,482.3 406.6,482.3ZM426.9,482.1 432.2,482.3 426.5,482.3ZM359.4,482.7 364.3,482.8 359.1,482.8ZM377.4,482.7 382.4,482.8 377.1,482.8ZM395.9,482.7 401,482.8 395.6,482.8ZM414.4,482.7 419.6,482.8 414.2,482.8ZM353.4,483.2 358,483.3 354.4,483.6 354.1,484 349.6,484ZM370.4,483.2 375,483.3 370,483.3ZM387.4,483.2 392.2,483.3 387.1,483.3ZM365.4,483.7 369.5,483.5 369.9,484 365.3,484ZM381.4,483.7 384.9,483.6 385.8,484 381.1,484ZM397.4,483.7 401.4,483.7 401.9,484 397.2,484ZM413.4,483.7 417.5,483.7 418,484 413.3,484ZM429.4,483.8 433.4,483.7 434.2,484ZM445.9,483.7 449.9,483.7 450.3,484 445.6,484ZM461.9,483.5 466.4,484 461.7,484Z"/>
<path fill="#ff7700" d="M427.4,180 528.7,180 528.7,484 526.7,484 481.4,342.6 434.4,202.3 427.2,180.2ZM346.9,412.4 354.4,413.7 357.9,415.2 361.1,417.5 365.9,422.9 368.4,424.9 370,425 374.4,423.4 375.7,423.4 376.4,424.8 382.2,428.4 386,431.4 388.3,434.4 388.8,436.4 387.9,437.3 385.4,438.5 381.4,438.7 376.4,438.2 375.9,439.2 374.4,437.9 369.9,431.8 367.9,430.3 365.4,430.2 361.4,431.7 358.9,432 355.4,431.5 353.2,430.4 346.7,426ZM359.9,456.8 362.4,456.4 364.4,456.8 366.8,458.8 366.8,460.3 364.9,461.3 361.4,460.3 359,458.3 359.2,457.3ZM399.9,463.3 403.9,463.3 414.9,465.3 448,473 498.4,484 494.3,484 493.4,483.5 414.6,468.3 402.9,465.6 399.9,464.3 399.3,463.8ZM461.9,463.3 465.6,463.3 481.5,469.1 501.4,477.8 514.6,484 510.5,484 509.9,483.5 481.7,473.3 465.4,466.4 462.4,464.3ZM346.9,465.8 349.4,466.4 351,467.8 351.1,468.3 349.9,468.8 346.7,468.1ZM372.4,467.8 374.4,467.7 377,468.9 387.4,470.5 482.3,484 478.2,484 477.4,483.5 412.8,475.3 375.5,470 372.3,468.8 372,468.3ZM365.4,473.3 365.9,473.3 365.2,473.3ZM372.5,474.3 373.5,474.3 372,474.3ZM374.9,474.6 379.9,474.8 451.6,482.3 446.7,482.3 406,478.3 377,475.3 374.7,474.8ZM362.9,476.8 367.1,476.8 407.8,480.3 401.5,480.3ZM346.9,477.5 350.4,477.8 350.4,478.2 355.9,478.3 346.7,477.9ZM363.4,479.1 369.5,479.3 363.2,479.3ZM346.9,479.6 351.9,479.8 346.7,479.8ZM370.4,479.7 375.5,479.8 370.1,479.8ZM353.9,480.2 359.5,480.3 353.7,480.3ZM377.4,480.2 382.8,480.3 377.1,480.3ZM384.9,480.7 390.1,480.8 384.5,480.8ZM370.4,481.2 375.4,481.3 370.1,481.3ZM414.4,481.1 419.8,481.3 414.2,481.3ZM378.9,481.7 383.6,481.8 378.5,481.8ZM420.9,481.6 425.8,481.8 420.5,481.8ZM387.4,482.2 392.1,482.3 387.2,482.3ZM407.4,482.2 412,482.3 407,482.3ZM359.9,482.7 364,482.8 359.5,482.8ZM396.4,482.7 400.7,482.8 396,482.8ZM414.9,482.7 419.2,482.8 414.6,482.8ZM353.9,483.2 357.7,483.3 354.4,483.5 353.8,484 349.9,484ZM422.4,483.2 426.5,483.3 422.2,483.3ZM439.9,483.2 443.9,483.3 439.6,483.3ZM365.9,483.7 368.9,483.6 369.6,484 365.6,484ZM381.4,483.7 384.9,483.7 385.4,484 381.4,484ZM397.9,483.7 401.4,483.7 401.6,484 397.5,484ZM413.9,483.7 417.4,483.7 417.7,484 413.7,484ZM429.9,483.7 433.8,484 429.8,484ZM445.9,483.7 449.4,483.7 449.9,484 445.9,484ZM462.4,483.6 466.1,484 462.1,484Z"/>
<path fill="#ff3000" d="M447.4,180 528.7,180 528.7,484 527.1,484 487.8,331.8 465.4,247.7 447,180.2ZM346.9,415.5 355,416 356.9,416.7 359.4,418.3 362,421 363.7,423.9 364.2,426.4 363.4,428.4 360.9,430.1 357.5,430.5 354.4,429.7 351,427.4 348.4,424.8 346.7,423.7ZM374.4,425.4 375.4,425.2 375.9,425.5 376.4,427 380,429.4 382.8,431.9 384.2,434.4 383.5,435.9 380.9,436.7 376.4,436.7 375.9,437.9 374.9,437.2 372.7,433.4 371.6,429.9 372.2,427.4ZM360.9,457.2 362.9,456.9 364.4,457.3 365.9,458.8 366,459.8 364.4,460.8 361.4,459.9 360,458.3 360.1,457.8ZM402.9,463.8 418,466.3 448.9,473.5 498,484 494.7,484 494,483.5 415.9,468.3 403.6,465.3 402.1,464.3ZM346.9,466.1 349.4,466.7 350.3,467.8 350.1,468.3 346.7,467.8ZM469,466.2 472.6,466.8 481.5,469.8 499.5,477.3 514.2,484 510.9,484 510.4,483.5 482.9,473.3 471.7,468.3 469.2,466.8 468.7,466.3ZM372.9,468.2 375.5,468.2 376.4,469.3 377.1,469.3 375.9,469.9 375.2,469.8 372.9,468.8ZM377.5,469.7 380.7,469.8 399.7,472.3 474.6,482.8 470.9,482.8 410,474.8ZM376,474.7 431.8,480.3 427,480.3 411.8,478.8 378.1,475.3ZM364.9,476.8 365.9,476.8 364.6,476.8ZM367.4,477.2 372,477.3 367.2,477.3ZM346.9,477.6 349.9,477.8 346.7,477.9ZM372.4,477.5 376.6,477.8 372.2,477.8ZM357.9,478.7 362.2,478.8 357.7,478.8ZM346.9,479.7 351.3,479.8 346.7,479.8ZM402.5,480.2 407.1,480.3 402.1,480.3ZM385.4,480.7 389.5,480.8 385.1,480.8ZM432.5,480.6 436.6,480.8 432.1,480.8ZM370.9,481.2 374.9,481.3 370.6,481.3ZM392.9,481.2 396.9,481.3 392.5,481.3ZM437.4,481.2 441.4,481.3 437.2,481.3ZM379.5,481.7 383,481.8 379,481.8ZM421.4,481.7 425.2,481.8 421.1,481.8ZM387.9,482.2 391.6,482.3 387.7,482.3ZM407.9,482.2 411.5,482.3 407.5,482.3ZM415.5,482.7 418.8,482.8 415,482.8ZM423,483.2 426.1,483.3 422.6,483.3ZM440.5,483.2 443.4,483.3 440,483.3ZM474.9,483.1 478.2,483.3 474.7,483.3ZM350.4,483.7 352.9,483.6 353.4,484 350.2,484ZM366.4,483.7 368.9,483.7 369.2,484 366,484ZM381.9,483.7 385,483.7 385,484 381.8,484ZM397.9,483.7 401.2,484 397.9,484ZM414.4,483.7 417.3,484 414.1,484ZM430.4,483.7 433.4,484 430.2,484ZM446.4,483.7 449.5,484 446.3,484ZM462.4,483.7 465.7,484 462.4,484ZM478.9,483.6 481.9,484 478.6,484Z"/>
<path fill="#ff0000" d="M472.4,180 528.7,180 528.7,484 527.6,484 496.2,310.3 472.2,180.2ZM352.9,418.4 356.4,419 358.4,420.2 359.9,421.8 360.9,423.4 361.4,425.4 361,426.9 360.2,427.9 357.9,428.7 355.5,428.4 353.1,426.9 350.7,424.4 349.7,422 349.9,420 350.8,419ZM375.5,427.4 375.9,427.7 376.4,430.5 377.6,432.4 377.2,433.4 376.4,433.8 375.9,436.2 375.4,436.1 374.5,434.5 373.6,431.4 373.9,428.9ZM361.9,457.7 363.4,457.6 364.5,457.9 365.1,458.8 364.9,460 363.4,460.1 361.8,459.3 361.2,458.3ZM406.9,465.2 410,465.3 418.4,466.8 447.9,473.8 445.8,473.8 419.9,468.8 409.3,466.3ZM346.9,466.5 349,466.8 349.7,467.8 348.4,467.9 346.7,467.5ZM374.4,468.3 376,468.8 376.1,469.3 375.4,469.6 373.7,468.8ZM480.4,470.8 484.3,471.8 493.5,475.3 513.7,484 511.4,484 510.9,483.5 491.8,476.3 482.4,472.3 480.7,471.3ZM395,472.2 405.5,473.3 437.5,477.8 433.9,477.8 426.2,476.8ZM451.4,474.7 452.9,474.8 451.1,474.8ZM455.9,475.6 458,475.8 455.7,475.8ZM458.4,476 495.1,483.3 492.7,483.3 482.4,481.3 458,476.3ZM368.9,477.3 370.6,477.3 368.6,477.3ZM398.4,477.2 402,477.3 398.1,477.3ZM346.9,477.7 349.3,477.8 346.7,477.8ZM373.4,477.7 376.1,477.8 373,477.8ZM352.9,478.3 354.1,478.3 352.6,478.3ZM379.4,478.3 381.4,478.3 379,478.3ZM407.9,478.2 411.9,478.3 407.7,478.3ZM412.9,478.7 416.7,478.8 412.6,478.8ZM441.9,478.7 444.5,478.8 441.7,478.8ZM364.9,479.2 368.1,479.3 364.5,479.3ZM417.9,479.2 421.5,479.3 417.7,479.3ZM449.4,479.7 451.9,479.8 449,479.8ZM355.4,480.2 358.2,480.3 355,480.3ZM379,480.2 381.2,480.3 378.7,480.3ZM363.4,480.7 366.1,480.8 363,480.8ZM409.4,480.7 412.5,480.8 409.1,480.8ZM456.9,480.7 459.2,480.8 456.5,480.8ZM350.4,481.2 352.9,481.3 350,481.3ZM393.4,481.2 396.2,481.3 393.2,481.3ZM400.9,481.7 403.5,481.8 400.6,481.8ZM464.4,481.7 466.6,481.8 464,481.8ZM350.4,482.2 352,482.3 350.1,482.3ZM408.4,482.2 410.9,482.3 408.1,482.3ZM428.4,482.2 430.6,482.3 428,482.3ZM360.9,482.7 362.9,482.8 360.5,482.8ZM378.9,482.7 380.9,482.8 378.5,482.8ZM397.5,482.7 399.6,482.8 397,482.8ZM415.9,482.7 418.2,482.8 415.6,482.8ZM471.9,482.7 474,482.8 471.5,482.8ZM423.4,483.2 425.5,483.3 423.2,483.3ZM440.9,483.2 442.9,483.3 440.6,483.3ZM350.9,483.7 353,484 350.7,484ZM366.9,483.7 368.7,484 366.5,484ZM382.4,483.7 384.5,484 382.3,484ZM398.4,483.7 400.7,484 398.4,484ZM414.9,483.7 416.8,484 414.6,484ZM430.9,483.7 432.9,484 430.7,484ZM446.9,483.7 449,484 446.9,484ZM479.4,483.7 481.4,484 479.1,484ZM495.4,483.6 497.5,484 495.3,484Z"/>
<rect x="346.7" y="475.8" width="3.5" height="2.8" fill="#ff7700"/>
<rect x="349.9" y="475.8" width="3.5" height="2.8" fill="#00ff0e"/>
<rect x="353.2" y="475.8" width="3.5" height="2.8" fill="#0044ff"/>
<rect x="356.4" y="475.8" width="3.5" height="2.8" fill="#6300ff"/>
<rect x="359.7" y="475.8" width="3.5" height="2.8" fill="#3300ff"/>
<rect x="362.9" y="475.8" width="3.5" height="2.8" fill="#00ffcc"/>
<rect x="366.2" y="475.8" width="3.5" height="2.8" fill="#e0ff00"/>
<rect x="369.4" y="475.8" width="3.5" height="2.8" fill="#ff3000"/>
<rect x="372.7" y="475.8" width="3.5" height="2.8" fill="#ff0000"/>
<rect x="375.9" y="475.8" width="3.5" height="2.8" fill="#99ff00"/>
<rect x="379.2" y="475.8" width="3.5" height="2.8" fill="#00ffcc"/>
<rect x="382.4" y="475.8" width="3.5" height="2.8" fill="#0014ff"/>
<rect x="385.7" y="475.8" width="3.5" height="2.8" fill="#6300ff"/>
<rect x="388.9" y="475.8" width="3.5" height="2.8" fill="#0014ff"/>
<rect x="392.2" y="475.8" width="3.5" height="2.8" fill="#00ffcc"/>
<rect x="395.4" y="475.8" width="3.5" height="2.8" fill="#99ff00"/>
<rect x="398.7" y="475.8" width="3.5" height="2.8" fill="#ff3000"/>
<rect x="401.9" y="475.8" width="3.5" height="2.8" fill="#ff0000"/>
<rect x="405.2" y="475.8" width="3.5" height="2.8" fill="#ff7700"/>
<rect x="408.4" y="475.8" width="3.5" height="2.8" fill="#22ff00"/>
<rect x="411.7" y="475.8" width="3.5" height="2.8" fill="#00bbff"/>
<rect x="414.9" y="475.8" width="3.5" height="2.8" fill="#6300ff"/>
<rect x="418.2" y="475.8" width="3.5" height="2.8" fill="#6300ff"/>
<rect x="421.4" y="475.8" width="3.5" height="2.8" fill="#0044ff"/>
<rect x="424.7" y="475.8" width="3.5" height="2.8" fill="#00ff55"/>
<rect x="427.9" y="475.8" width="3.5" height="2.8" fill="#ffee00"/>
<rect x="431.2" y="475.8" width="3.5" height="2.8" fill="#ff0000"/>
<rect x="434.4" y="475.8" width="3.5" height="2.8" fill="#ff0000"/>
<rect x="437.7" y="475.8" width="3.5" height="2.8" fill="#ffee00"/>
<rect x="440.9" y="475.8" width="3.5" height="2.8" fill="#00ff85"/>
<rect x="444.2" y="475.8" width="3.5" height="2.8" fill="#0044ff"/>
<rect x="447.4" y="475.8" width="3.5" height="2.8" fill="#6300ff"/>
<rect x="450.7" y="475.8" width="3.5" height="2.8" fill="#3300ff"/>
<rect x="453.9" y="475.8" width="3.5" height="2.8" fill="#00bbff"/>
<rect x="457.2" y="475.8" width="3.5" height="2.8" fill="#22ff00"/>
<rect x="460.4" y="475.8" width="3.5" height="2.8" fill="#ff7700"/>
<rect x="463.7" y="475.8" width="3.5" height="2.8" fill="#ff0000"/>
<rect x="466.9" y="475.8" width="3.5" height="2.8" fill="#ff7700"/>
<rect x="470.2" y="475.8" width="3.5" height="2.8" fill="#69ff00"/>
<rect x="473.4" y="475.8" width="3.5" height="2.8" fill="#00fffc"/>
<rect x="476.7" y="475.8" width="3.5" height="2.8" fill="#3300ff"/>
<rect x="479.9" y="475.8" width="3.5" height="2.8" fill="#6300ff"/>
<rect x="483.2" y="475.8" width="3.5" height="2.8" fill="#0014ff"/>
<rect x="486.4" y="475.8" width="3.5" height="2.8" fill="#00ffcc"/>
<rect x="489.7" y="475.8" width="3.5" height="2.8" fill="#99ff00"/>
<rect x="492.9" y="475.8" width="3.5" height="2.8" fill="#ff3000"/>
<rect x="496.2" y="475.8" width="3.5" height="2.8" fill="#ff0000"/>
<rect x="499.4" y="475.8" width="3.5" height="2.8" fill="#ffa700"/>
<rect x="502.7" y="475.8" width="3.5" height="2.8" fill="#22ff00"/>
<rect x="505.9" y="475.8" width="3.5" height="2.8" fill="#00bbff"/>
<rect x="509.2" y="475.8" width="3.5" height="2.8" fill="#6300ff"/>
<rect x="512.5" y="475.8" width="3.5" height="2.8" fill="#6300ff"/>
<rect x="515.7" y="475.8" width="3.5" height="2.8" fill="#0044ff"/>
<rect x="519.0" y="475.8" width="3.5" height="2.8" fill="#00ff55"/>
<rect x="522.2" y="475.8" width="3.5" height="2.8" fill="#ffee00"/>
<rect x="525.5" y="475.8" width="3.5" height="2.8" fill="#ff0000"/>
<rect x="348.3" y="478.5" width="3.5" height="2.8" fill="#22ff00"/>
<rect x="351.6" y="478.5" width="3.5" height="2.8" fill="#ff3000"/>
<rect x="354.8" y="478.5" width="3.5" height="2.8" fill="#ff0000"/>
<rect x="358.1" y="478.5" width="3.5" height="2.8" fill="#99ff00"/>
<rect x="361.3" y="478.5" width="3.5" height="2.8" fill="#00bbff"/>
<rect x="364.6" y="478.5" width="3.5" height="2.8" fill="#6300ff"/>
<rect x="367.8" y="478.5" width="3.5" height="2.8" fill="#3300ff"/>
<rect x="371.1" y="478.5" width="3.5" height="2.8" fill="#00ff85"/>
<rect x="374.3" y="478.5" width="3.5" height="2.8" fill="#ffa700"/>
<rect x="377.6" y="478.5" width="3.5" height="2.8" fill="#ff0000"/>
<rect x="380.8" y="478.5" width="3.5" height="2.8" fill="#ffee00"/>
<rect x="384.1" y="478.5" width="3.5" height="2.8" fill="#00ffcc"/>
<rect x="387.3" y="478.5" width="3.5" height="2.8" fill="#3300ff"/>
<rect x="390.6" y="478.5" width="3.5" height="2.8" fill="#6300ff"/>
<rect x="393.8" y="478.5" width="3.5" height="2.8" fill="#00bbff"/>
<rect x="397.1" y="478.5" width="3.5" height="2.8" fill="#99ff00"/>
<rect x="400.3" y="478.5" width="3.5" height="2.8" fill="#ff0000"/>
<rect x="403.6" y="478.5" width="3.5" height="2.8" fill="#ff0000"/>
<rect x="406.8" y="478.5" width="3.5" height="2.8" fill="#99ff00"/>
<rect x="410.1" y="478.5" width="3.5" height="2.8" fill="#00bbff"/>
<rect x="413.3" y="478.5" width="3.5" height="2.8" fill="#6300ff"/>
<rect x="416.6" y="478.5" width="3.5" height="2.8" fill="#3300ff"/>
<rect x="419.8" y="478.5" width="3.5" height="2.8" fill="#00ffcc"/>
<rect x="423.1" y="478.5" width="3.5" height="2.8" fill="#ffee00"/>
<rect x="426.3" y="478.5" width="3.5" height="2.8" fill="#ff0000"/>
<rect x="429.6" y="478.5" width="3.5" height="2.8" fill="#ff7700"/>
<rect x="432.8" y="478.5" width="3.5" height="2.8" fill="#00ff0e"/>
<rect x="436.1" y="478.5" width="3.5" height="2.8" fill="#0044ff"/>
<rect x="439.3" y="478.5" width="3.5" height="2.8" fill="#6300ff"/>
<rect x="442.6" y="478.5" width="3.5" height="2.8" fill="#0014ff"/>
<rect x="445.8" y="478.5" width="3.5" height="2.8" fill="#00ff0e"/>
<rect x="449.1" y="478.5" width="3.5" height="2.8" fill="#ff7700"/>
<rect x="452.3" y="478.5" width="3.5" height="2.8" fill="#ff0000"/>
<rect x="455.6" y="478.5" width="3.5" height="2.8" fill="#ffee00"/>
<rect x="458.8" y="478.5" width="3.5" height="2.8" fill="#00ff85"/>
<rect x="462.1" y="478.5" width="3.5" height="2.8" fill="#3300ff"/>
<rect x="465.3" y="478.5" width="3.5" height="2.8" fill="#6300ff"/>
<rect x="468.6" y="478.5" width="3.5" height="2.8" fill="#008bff"/>
<rect x="471.8" y="478.5" width="3.5" height="2.8" fill="#69ff00"/>
<rect x="475.1" y="478.5" width="3.5" height="2.8" fill="#ff3000"/>
<rect x="478.3" y="478.5" width="3.5" height="2.8" fill="#ff0000"/>
<rect x="481.6" y="478.5" width="3.5" height="2.8" fill="#99ff00"/>
<rect x="484.8" y="478.5" width="3.5" height="2.8" fill="#00bbff"/>
<rect x="488.1" y="478.5" width="3.5" height="2.8" fill="#6300ff"/>
<rect x="491.3" y="478.5" width="3.5" height="2.8" fill="#3300ff"/>
<rect x="494.6" y="478.5" width="3.5" height="2.8" fill="#00ffcc"/>
<rect x="497.8" y="478.5" width="3.5" height="2.8" fill="#e0ff00"/>
<rect x="501.1" y="478.5" width="3.5" height="2.8" fill="#ff0000"/>
<rect x="504.3" y="478.5" width="3.5" height="2.8" fill="#ff3000"/>
<rect x="507.6" y="478.5" width="3.5" height="2.8" fill="#22ff00"/>
<rect x="510.8" y="478.5" width="3.5" height="2.8" fill="#008bff"/>
<rect x="514.1" y="478.5" width="3.5" height="2.8" fill="#6300ff"/>
<rect x="517.3" y="478.5" width="3.5" height="2.8" fill="#0014ff"/>
<rect x="520.6" y="478.5" width="3.5" height="2.8" fill="#00ff55"/>
<rect x="523.8" y="478.5" width="3.5" height="2.8" fill="#ffa700"/>
<rect x="527.1" y="478.5" width="1.8" height="2.8" fill="#ff0000"/>
<rect x="346.7" y="481.2" width="3.5" height="2.9" fill="#ffee00"/>
<rect x="349.9" y="481.2" width="3.5" height="2.9" fill="#008bff"/>
<rect x="353.2" y="481.2" width="3.5" height="2.9" fill="#6300ff"/>
<rect x="356.4" y="481.2" width="3.5" height="2.9" fill="#00fffc"/>
<rect x="359.7" y="481.2" width="3.5" height="2.9" fill="#ff7700"/>
<rect x="362.9" y="481.2" width="3.5" height="2.9" fill="#ff0000"/>
<rect x="366.2" y="481.2" width="3.5" height="2.9" fill="#00ff0e"/>
<rect x="369.4" y="481.2" width="3.5" height="2.9" fill="#3300ff"/>
<rect x="372.7" y="481.2" width="3.5" height="2.9" fill="#0014ff"/>
<rect x="375.9" y="481.2" width="3.5" height="2.9" fill="#69ff00"/>
<rect x="379.2" y="481.2" width="3.5" height="2.9" fill="#ff0000"/>
<rect x="382.4" y="481.2" width="3.5" height="2.9" fill="#ffee00"/>
<rect x="385.7" y="481.2" width="3.5" height="2.9" fill="#00bbff"/>
<rect x="388.9" y="481.2" width="3.5" height="2.9" fill="#6300ff"/>
<rect x="392.2" y="481.2" width="3.5" height="2.9" fill="#00bbff"/>
<rect x="395.4" y="481.2" width="3.5" height="2.9" fill="#ffa700"/>
<rect x="398.7" y="481.2" width="3.5" height="2.9" fill="#ff0000"/>
<rect x="401.9" y="481.2" width="3.5" height="2.9" fill="#69ff00"/>
<rect x="405.2" y="481.2" width="3.5" height="2.9" fill="#0014ff"/>
<rect x="408.4" y="481.2" width="3.5" height="2.9" fill="#6300ff"/>
<rect x="411.7" y="481.2" width="3.5" height="2.9" fill="#00ff55"/>
<rect x="414.9" y="481.2" width="3.5" height="2.9" fill="#ff3000"/>
<rect x="418.2" y="481.2" width="3.5" height="2.9" fill="#ff3000"/>
<rect x="421.4" y="481.2" width="3.5" height="2.9" fill="#00ff85"/>
<rect x="424.7" y="481.2" width="3.5" height="2.9" fill="#6300ff"/>
<rect x="427.9" y="481.2" width="3.5" height="2.9" fill="#0014ff"/>
<rect x="431.2" y="481.2" width="3.5" height="2.9" fill="#69ff00"/>
<rect x="434.4" y="481.2" width="3.5" height="2.9" fill="#ff0000"/>
<rect x="437.7" y="481.2" width="3.5" height="2.9" fill="#ffee00"/>
<rect x="440.9" y="481.2" width="3.5" height="2.9" fill="#00bbff"/>
<rect x="444.2" y="481.2" width="3.5" height="2.9" fill="#6300ff"/>
<rect x="447.4" y="481.2" width="3.5" height="2.9" fill="#00bbff"/>
<rect x="450.7" y="481.2" width="3.5" height="2.9" fill="#ffa700"/>
<rect x="453.9" y="481.2" width="3.5" height="2.9" fill="#ff0000"/>
<rect x="457.2" y="481.2" width="3.5" height="2.9" fill="#69ff00"/>
<rect x="460.4" y="481.2" width="3.5" height="2.9" fill="#0014ff"/>
<rect x="463.7" y="481.2" width="3.5" height="2.9" fill="#6300ff"/>
<rect x="466.9" y="481.2" width="3.5" height="2.9" fill="#00ff55"/>
<rect x="470.2" y="481.2" width="3.5" height="2.9" fill="#ff3000"/>
<rect x="473.4" y="481.2" width="3.5" height="2.9" fill="#ff3000"/>
<rect x="476.7" y="481.2" width="3.5" height="2.9" fill="#00ff85"/>
<rect x="479.9" y="481.2" width="3.5" height="2.9" fill="#6300ff"/>
<rect x="483.2" y="481.2" width="3.5" height="2.9" fill="#0014ff"/>
<rect x="486.4" y="481.2" width="3.5" height="2.9" fill="#69ff00"/>
<rect x="489.7" y="481.2" width="3.5" height="2.9" fill="#ff0000"/>
<rect x="492.9" y="481.2" width="3.5" height="2.9" fill="#ffee00"/>
<rect x="496.2" y="481.2" width="3.5" height="2.9" fill="#00bbff"/>
<rect x="499.4" y="481.2" width="3.5" height="2.9" fill="#6300ff"/>
<rect x="502.7" y="481.2" width="3.5" height="2.9" fill="#00bbff"/>
<rect x="505.9" y="481.2" width="3.5" height="2.9" fill="#ffa700"/>
<rect x="509.2" y="481.2" width="3.5" height="2.9" fill="#ff0000"/>
<rect x="512.5" y="481.2" width="3.5" height="2.9" fill="#69ff00"/>
<rect x="515.7" y="481.2" width="3.5" height="2.9" fill="#0014ff"/>
<rect x="519.0" y="481.2" width="3.5" height="2.9" fill="#6300ff"/>
<rect x="522.2" y="481.2" width="3.5" height="2.9" fill="#00ff55"/>
<rect x="525.5" y="481.2" width="3.5" height="2.9" fill="#ff3000"/>
<rect x="346.7" y="178.5" width="182" height="305.5" fill="none" stroke="#000" stroke-width="1"/>
<line x1="346.7" y1="178.0" x2="346.7" y2="484.7" stroke="#000" stroke-width="1.6"/>
<line x1="345.9" y1="484.0" x2="528.7" y2="484.0" stroke="#000" stroke-width="1.6"/>
<path d="M346.7,484.0h3.5M346.7,477.8h3.5M346.7,471.5h3.5M346.7,465.3h3.5M346.7,459.1h6M346.7,452.8h3.5M346.7,446.6h3.5M346.7,440.4h3.5M346.7,434.1h3.5M346.7,427.9h6M346.7,421.7h3.5M346.7,415.4h3.5M346.7,409.2h3.5M346.7,402.9h3.5M346.7,396.7h6M346.7,390.5h3.5M346.7,384.2h3.5M346.7,378.0h3.5M346.7,371.8h3.5M346.7,365.5h6M346.7,359.3h3.5M346.7,353.1h3.5M346.7,346.8h3.5M346.7,340.6h3.5M346.7,334.4h6M346.7,328.1h3.5M346.7,321.9h3.5M346.7,315.7h3.5M346.7,309.4h3.5M346.7,303.2h6M346.7,297.0h3.5M346.7,290.7h3.5M346.7,284.5h3.5M346.7,278.3h3.5M346.7,272.0h6M346.7,265.8h3.5M346.7,259.6h3.5M346.7,253.3h3.5M346.7,247.1h3.5M346.7,240.8h6M346.7,234.6h3.5M346.7,228.4h3.5M346.7,222.1h3.5M346.7,215.9h3.5M346.7,209.7h6M346.7,203.4h3.5M346.7,197.2h3.5M346.7,191.0h3.5M346.7,184.7h3.5M346.7,178.5h6M346.7,484.0v-5M355.8,484.0v-3M364.9,484.0v-5M374.0,484.0v-3M383.1,484.0v-5M392.2,484.0v-3M401.3,484.0v-5M410.4,484.0v-3M419.5,484.0v-5M428.6,484.0v-3M437.7,484.0v-5M446.8,484.0v-3M455.9,484.0v-5M465.0,484.0v-3M474.1,484.0v-5M483.2,484.0v-3M492.3,484.0v-5M501.4,484.0v-3M510.5,484.0v-5M519.6,484.0v-3M528.7,484.0v-5" stroke="#000" stroke-width="1" fill="none"/>
<text x="344.7" y="461.1" font-size="6" text-anchor="end">5</text>
<text x="344.7" y="429.9" font-size="6" text-anchor="end">10</text>
<text x="344.7" y="398.7" font-size="6" text-anchor="end">15</text>
<text x="344.7" y="367.5" font-size="6" text-anchor="end">20</text>
<text x="344.7" y="336.4" font-size="6" text-anchor="end">25</text>
<text x="344.7" y="305.2" font-size="6" text-anchor="end">30</text>
<text x="344.7" y="274.0" font-size="6" text-anchor="end">35</text>
<text x="344.7" y="242.8" font-size="6" text-anchor="end">40</text>
<text x="344.7" y="211.7" font-size="6" text-anchor="end">45</text>
<text x="344.7" y="180.5" font-size="6" text-anchor="end">50</text>
<text x="347.7" y="495.3" font-size="6" text-anchor="middle">1</text>
<text x="365.9" y="495.3" font-size="6" text-anchor="middle">0.9</text>
<text x="384.1" y="495.3" font-size="6" text-anchor="middle">0.8</text>
<text x="402.3" y="495.3" font-size="6" text-anchor="middle">0.7</text>
<text x="420.5" y="495.3" font-size="6" text-anchor="middle">0.6</text>
<text x="438.7" y="495.3" font-size="6" text-anchor="middle">0.5</text>
<text x="456.9" y="495.3" font-size="6" text-anchor="middle">0.4</text>
<text x="475.1" y="495.3" font-size="6" text-anchor="middle">0.3</text>
<text x="493.3" y="495.3" font-size="6" text-anchor="middle">0.2</text>
<text x="511.5" y="495.3" font-size="6" text-anchor="middle">0.1</text>
<text x="529.7" y="495.3" font-size="6" text-anchor="middle">0</text>
<text x="529.2" y="506.2" font-size="7.2" text-anchor="end">Cos(Zenith Angle)</text>
<text transform="translate(336.09999999999997,178.8) rotate(-90)" font-size="6.6" text-anchor="end" textLength="42.5" lengthAdjust="spacingAndGlyphs">Energy (GeV)</text>
<text x="374" y="171.0" font-size="9" textLength="129" lengthAdjust="spacingAndGlyphs" fill="#222">P(ν<tspan font-size="6" dy="2">μ</tspan><tspan dy="-2"> → ν</tspan><tspan font-size="6" dy="2">μ</tspan><tspan dy="-2">) - Normal Hierarchy</tspan></text>
<rect x="531.2" y="468.73" width="10.3" height="15.58" fill="#6300ff"/>
<rect x="531.2" y="453.45" width="10.3" height="15.58" fill="#3300ff"/>
<rect x="531.2" y="438.18" width="10.3" height="15.58" fill="#0014ff"/>
<rect x="531.2" y="422.90" width="10.3" height="15.58" fill="#0044ff"/>
<rect x="531.2" y="407.62" width="10.3" height="15.58" fill="#008bff"/>
<rect x="531.2" y="392.35" width="10.3" height="15.58" fill="#00bbff"/>
<rect x="531.2" y="377.07" width="10.3" height="15.58" fill="#00fffc"/>
<rect x="531.2" y="361.80" width="10.3" height="15.58" fill="#00ffcc"/>
<rect x="531.2" y="346.52" width="10.3" height="15.58" fill="#00ff85"/>
<rect x="531.2" y="331.25" width="10.3" height="15.58" fill="#00ff55"/>
<rect x="531.2" y="315.98" width="10.3" height="15.58" fill="#00ff0e"/>
<rect x="531.2" y="300.70" width="10.3" height="15.58" fill="#22ff00"/>
<rect x="531.2" y="285.43" width="10.3" height="15.58" fill="#69ff00"/>
<rect x="531.2" y="270.15" width="10.3" height="15.58" fill="#99ff00"/>
<rect x="531.2" y="254.88" width="10.3" height="15.58" fill="#e0ff00"/>
<rect x="531.2" y="239.60" width="10.3" height="15.58" fill="#ffee00"/>
<rect x="531.2" y="224.32" width="10.3" height="15.58" fill="#ffa700"/>
<rect x="531.2" y="209.05" width="10.3" height="15.58" fill="#ff7700"/>
<rect x="531.2" y="193.77" width="10.3" height="15.58" fill="#ff3000"/>
<rect x="531.2" y="178.50" width="10.3" height="15.58" fill="#ff0000"/>
<line x1="541.5" y1="178.5" x2="541.5" y2="484.0" stroke="#000" stroke-width="1.2"/>
<path d="M541.5,484.0h-6M541.5,453.4h-6M541.5,422.9h-6M541.5,392.4h-6M541.5,361.8h-6M541.5,331.2h-6M541.5,300.7h-6M541.5,270.1h-6M541.5,239.6h-6M541.5,209.1h-6M541.5,178.5h-6" stroke="#000" stroke-width="1"/>
<text x="543.0" y="486.0" font-size="6">0</text>
<text x="543.0" y="455.4" font-size="6">0.1</text>
<text x="543.0" y="424.9" font-size="6">0.2</text>
<text x="543.0" y="394.4" font-size="6">0.3</text>
<text x="543.0" y="363.8" font-size="6">0.4</text>
<text x="543.0" y="333.2" font-size="6">0.5</text>
<text x="543.0" y="302.7" font-size="6">0.6</text>
<text x="543.0" y="272.1" font-size="6">0.7</text>
<text x="543.0" y="241.6" font-size="6">0.8</text>
<text x="543.0" y="211.1" font-size="6">0.9</text>
<rect x="585" y="180" width="182.4" height="304" fill="#6300ff"/>
<path fill="#3300ff" d="M585.3,180 767.4,180 767.4,484 760.7,484 720,444.7 585,316.9 585,180ZM585.3,360.3 720,456.1 758.5,484 745.1,484 702,471.3 585,438 585,360.3ZM585.3,442.8 742.6,483.6 742.9,484 729.5,484 728.1,483.7 727.3,484 713.9,484 712.5,483.7 711.7,484 698.3,484 697,483.7 696.1,484 682.7,484 681.5,483.7 680.5,484 667.1,484 665.9,483.7 664.9,484 651.5,484 650.4,483.7 649.3,484 635.9,484 634.9,483.7 633.7,484 620.3,484 619.3,483.7 618.1,484 604.5,484 603.8,483.7 602.3,484 588.9,484 588.3,483.6 585,484 585,482.3 585.8,482.3 585,482.2 585,480.3 588.3,480.3 585,480.2 585,478.8 589.1,478.8 585,478.8 585,473.8 592.8,474.4 596.2,474.3 585,473.3 585,469.2 659.9,477.8 664.2,477.8 585,468.4 585,461.1 711.8,481.3 714.9,481.3 585,459.5 585,442.8ZM596.2,474.8 601.6,474.8 596.3,474.5Z"/>
<path fill="#0014ff" d="M585.3,180 767.4,180 767.4,484 761.2,484 720,441.1 585,303.6 585,180ZM585.3,366.9 720.5,458.1 758,484 745.6,484 700,470.3 585,436.9 585,366.9ZM585.3,443.7 741.6,483.5 742.4,484 730,484 704,479.3 585,459.1 585,443.7ZM585.3,461.5 726.1,483.5 726.8,484 714.4,484 712,483.6 711.2,484 698.8,484 697,483.7 695.6,484 683.2,484 681.5,483.7 680,484 667.6,484 665.9,483.7 664.4,484 652,484 650.4,483.7 648.8,484 636.4,484 634.9,483.7 633.2,484 620.7,484 619.3,483.7 617.6,484 605,484 604.3,483.6 601.8,484 589.3,484 589.8,483.5 592.4,483.3 591.3,483.2 585,484 585,482.3 586.4,482.3 585,482.2 585,481.3 585.3,481.3 585,481.3 585,480.3 589.1,480.3 585,480.2 585,478.8 589.9,478.8 585,478.7 585,476.8 591.5,476.8 585,476.5 585,473.9 645.6,479.3 651,479.3 585,473.2 585,469.4 693.8,481.8 698,481.8 585,468.2 585,461.5Z"/>
<path fill="#0044ff" d="M585.3,180 767.4,180 767.4,484 761.6,484 720,438 585,291.6 585,180ZM585.3,371.7 720,459.1 757.6,484 746,484 699.5,469.8 585,435.9 585,371.7ZM585.3,444.4 741.1,483.5 742,484 730.4,484 707.5,479.8 585,458.7 585,444.4ZM585.3,461.7 725.6,483.5 726.4,484 714.8,484 711.5,483.5 711,483.6 710.8,484 699.2,484 696.5,483.6 695.2,484 683.6,484 681.5,483.7 679.6,484 668,484 665.9,483.7 664,484 652.3,484 650.4,483.7 648.4,484 636.7,484 635.4,483.7 632.8,484 621.1,484 619.8,483.6 617.2,484 605.4,484 605.3,483.5 601.5,484 589.7,484 590.3,483.6 592.8,483.3 591.8,483.1 588.6,483.3 585,484 585,482.3 586.9,482.3 585,482.2 585,481.3 585.8,481.3 585,481.2 585,480.3 589.7,480.3 585,480.2 585,478.8 590.6,478.8 585,478.6 585,476.8 618.4,479.3 625.1,479.3 585,476.3 585,473.9 667.3,481.3 672.8,481.3 585,473.1 585,469.5 706.5,483.3 710.7,483.3 585,468 585,461.7Z"/>
<path fill="#008bff" d="M585.3,180 767.4,180 767.4,484 761.9,484 720,434.9 585,279.7 585,180ZM585.3,375.5 720,460.1 757.3,484 746.3,484 700.6,469.8 585,435.1 585,375.5ZM585.3,444.9 719,478 741.1,483.6 741.7,484 730.7,484 708,479.8 585,458.5 585,444.9ZM585.3,462 725.1,483.5 726.1,484 715.1,484 585,467.9 585,462ZM585.3,469.7 709.5,483.5 710.5,484 699.5,484 696,483.6 695,483.7 694.9,484 683.9,484 681,483.6 679.3,484 668.3,484 665.9,483.6 663.7,484 652.7,484 650.4,483.6 648.1,484 637.1,484 635.4,483.6 632.5,484 621.5,484 621.3,483.7 620.3,483.6 616.9,484 605.8,484 606.3,483.6 610.1,483.3 608.3,483.1 605.1,483.3 601.1,484 590.1,484 590.3,483.7 593.2,483.3 592.3,483.1 588.2,483.3 585,484 585,482.4 587.3,482.3 585,482.2 585,481.3 586.3,481.3 585,481.2 585,480.4 590.2,480.3 585,480.1 585,478.9 593.8,479.4 599,479.3 585,478.5 585,476.9 638.4,480.8 645.1,480.8 585,476.2 585,474 683.7,482.8 689,482.8 585,473Z"/>
<path fill="#00bbff" d="M585.3,180 767.4,180 767.4,484 762.2,484 720,431.7 585,267.7 585,180ZM585.3,378.8 721,461.5 757,484 746.6,484 701.5,469.8 585,434.3 585,378.8ZM585.3,445.5 720.5,478.6 740.6,483.5 741.4,484 731,484 700,478.3 585,458.2 585,445.5ZM585.3,462.2 725.1,483.6 725.8,484 715.4,484 585,467.8 585,462.2ZM585.3,469.8 709,483.5 710.2,484 699.8,484 699.5,483.7 695,483.5 694.6,484 684.2,484 681,483.6 679.5,483.7 679,484 668.6,484 665.9,483.6 663.4,484 653,484 652.9,483.7 650.4,483.6 647.8,484 637.4,484 636.9,483.6 635.4,483.6 632.2,484 621.8,484 621.8,483.6 622.3,483.5 627.3,483.3 624.8,483.1 616.6,484 606.1,484 606.8,483.6 610.4,483.3 608.8,483.1 604.8,483.3 600.8,484 590.4,484 590.8,483.6 594.3,483 599.1,482.8 596.8,482.6 585,483.7 585,482.4 587.7,482.3 585,482.1 585,481.4 586.7,481.3 585,481.2 585,480.4 590.7,480.3 585,480.1 585,478.9 608.3,480.3 615,480.3 585,478.5 585,476.9 652.4,481.8 658.4,481.8 585,476.2 585,474.1 689.5,483.3 694.6,483.3 585,472.9Z"/>
<path fill="#00fffc" d="M585.3,180 767.4,180 767.4,484 762.5,484 720,428.4 585,255.2 585,180ZM585.3,381.7 720.5,462 756.7,484 746.9,484 702.4,469.8 585,433.6 585,381.7ZM585.3,445.9 720,478.6 740.6,483.6 741.1,484 731.3,484 700.6,478.3 585,457.9 585,445.9ZM585.3,462.4 724.6,483.5 725.5,484 715.7,484 585,467.6 585,462.4ZM585.3,469.9 709,483.6 709.9,484 700.1,484 699.5,483.7 585,472.9ZM585.3,474.2 693.5,483.5 694.3,484 684.5,484 684,483.7 680.5,483.6 679,483.6 678.7,484 668.9,484 668.4,483.7 665.4,483.6 663.4,483.7 663.1,484 653.2,484 652.9,483.7 650.9,483.6 647.9,483.7 647.5,484 637.6,484 637.4,483.6 635.9,483.6 631.9,484 622,484 622.8,483.5 627.6,483.3 625.3,483.1 616.8,483.7 616.3,484 606.3,484 606.8,483.6 610.7,483.3 609.8,483 604.8,483.2 600.5,484 590.6,484 594.3,483.1 599.4,482.8 597.3,482.6 585,483.7 585,482.4 588,482.3 585,482.1 585,481.4 587.1,481.3 585,481.1 585,480.4 591.1,480.3 585,480.1 585,478.9 623.8,481.3 630.7,481.3 585,478.4 585,477 665.9,482.8 671.6,482.8 585,476.1Z"/>
<path fill="#00ffcc" d="M585.3,180 767.4,180 767.4,484 762.7,484 720,424.9 585,241.8 585,180ZM585.3,384.3 720.5,462.7 756.5,484 747.1,484 701.5,469.2 585,432.8 585,384.3ZM585.3,446.4 719.5,478.6 740.1,483.5 740.9,484 731.5,484 706.5,479.2 585,457.7 585,446.4ZM585.3,462.5 724.1,483.5 725.3,484 715.9,484 715.5,483.7 585,467.5 585,462.5ZM585.3,470 708.5,483.6 709.7,484 700.3,484 699.5,483.7 585,472.8ZM585.3,474.3 693,483.5 694.1,484 684.7,484 684,483.7 679.5,483.5 678.5,483.7 678.4,484 669.1,484 668.4,483.7 665.4,483.6 663.4,483.6 662.8,484 653.5,484 652.9,483.6 650.9,483.6 647.9,483.7 647.2,484 637.9,484 637.9,483.6 637.4,483.5 632.4,483.7 631.6,484 622.3,484 622.8,483.6 627.9,483.3 625.8,483.1 621.8,483.2 616,484 606.6,484 606.8,483.7 611.8,483 617.9,482.8 615.3,482.6 604.8,483.2 600.3,484 590.9,484 594.8,483.1 599.7,482.8 598.8,482.5 593.3,482.7 585,483.6 585,482.4 588.4,482.3 585,482.1 585,481.4 587.5,481.3 585,481.1 585,480.4 594.3,480.9 600.4,480.8 585,480 585,479 639.9,482.4 646.3,482.3 585,478.3 585,477 672.4,483.4 678.3,483.3 585,476.1Z"/>
<path fill="#00ff85" d="M585.3,180 767.4,180 767.4,484 763,484 720,421.1 585,227.4 585,180ZM585.3,386.7 720,463 756.2,484 747.4,484 700.5,468.7 585,432.1 585,386.7ZM585.3,446.8 719,478.6 740.1,483.6 740.6,484 731.8,484 704,478.7 585,457.5 585,446.8ZM585.3,462.7 724.1,483.6 725,484 716.2,484 715.5,483.7 585,467.4 585,462.7ZM585.3,470.1 708.5,483.6 709.4,484 700.6,484 700,483.7 585,472.7ZM585.3,474.3 693,483.6 693.8,484 685,484 684,483.6 585,476ZM585.3,477.1 677.5,483.5 678.2,484 669.4,484 668.9,483.7 665.4,483.5 662.9,483.6 662.6,484 653.8,484 653.4,483.6 651.4,483.5 647.4,483.7 647,484 638.2,484 638.9,483.5 645,483.3 641.4,483.1 631.9,483.7 631.4,484 622.6,484 623.3,483.6 628.2,483.3 626.8,483 621.8,483.1 615.8,484 606.9,484 607.3,483.7 611.8,483.1 618.2,482.8 615.3,482.5 604.8,483.2 600,484 591.2,484 595.3,483.1 608.1,482.3 604.8,482.1 592.8,482.7 585,483.6 585,482.5 588.7,482.3 585,482 585,481.4 587.9,481.3 585,481.1 585,480.5 609.3,481.5 610.8,481.9 618.6,481.8 585,480 585,479 645.9,482.5 647.4,482.9 654.2,482.8 585,478.3Z"/>
<path fill="#00ff55" d="M585.3,180 767.4,180 767.4,484 763.2,484 720,416.9 585,211.5 585,180ZM585.3,389 720,463.6 755.9,484 747.6,484 701,468.5 585,431.4 585,389ZM585.3,447.2 718.5,478.5 740.3,484 732,484 731.6,483.7 704,478.6 585,457.2 585,447.2ZM585.3,462.9 724.1,483.6 724.7,484 716.4,484 715.5,483.6 585,467.3 585,462.9ZM585.3,470.1 708,483.6 709.1,484 700.8,484 700,483.6 585,472.6ZM585.3,474.4 692.5,483.6 693.5,484 685.2,484 684.5,483.6 585,476ZM585.3,477.1 677,483.6 677.9,484 669.6,484 668.9,483.6 664.4,483.5 662.4,483.6 662.3,484 654,484 653.9,483.6 652.4,483.5 647.4,483.6 646.7,484 638.4,484 638.9,483.6 645.3,483.3 641.4,483 631.9,483.6 631.1,484 622.8,484 623.3,483.6 628.8,483.1 636.5,482.8 630.9,482.5 621.3,483.1 615.8,483.7 615.5,484 607.1,484 607.3,483.7 612.3,483.1 618.5,482.8 616.3,482.5 604.3,483.2 599.8,484 591.4,484 595.3,483.1 608.4,482.3 600.3,482.1 585,483.5 585,482.5 598.3,481.8 589.8,481.5 585,482 585,481.5 588.2,481.3 585,481.1 585,480.5 610.3,481.9 617.8,482 619.3,482.5 627.7,482.3 585,479.9 585,479 646.9,482.9 653.4,483 654.9,483.5 662.1,483.3 585,478.2Z"/>
<path fill="#00ff0e" d="M585.3,180 767.4,180 767.4,484 763.5,484 720,412.2 585,193.7 585,180ZM585.3,391.1 720,464.2 755.7,484 747.9,484 700.5,468.1 585,430.6 585,391.1ZM585.3,447.6 718,478.5 740.1,484 732.3,484 731.6,483.6 704.5,478.6 585,457 585,447.6ZM585.3,463 723.6,483.6 724.5,484 716.7,484 716,483.6 585,467.2 585,463ZM585.3,470.2 708,483.6 708.9,484 701.1,484 700,483.6 585,472.6ZM585.3,474.4 692.5,483.6 693.3,484 685.5,484 684.5,483.6 585,475.9ZM585.3,477.1 676.5,483.6 677.7,484 669.9,484 668.9,483.6 662.9,483.4 585,478.2ZM585.3,479.1 653.9,483.3 647.4,483.6 646.5,484 638.7,484 639.4,483.6 645.5,483.3 638.4,483 631.4,483.7 630.9,484 623.1,484 623.3,483.7 629.3,483.1 636.8,482.8 585,479.9ZM585.3,480.5 618.4,482.3 604.3,483.1 599.5,484 591.7,484 595.8,483.1 608.7,482.3 599.8,482 585,483.5 585,482.5 598.6,481.8 585,481ZM585.3,481.5 588.3,481.8 585,482ZM618.8,482.7 627.8,482.8 620.8,483.1 615.8,483.7 615.2,484 607.4,484 608.3,483.6ZM654.4,483.6 661.4,483.5 662.1,484 654.3,484Z"/>
<path fill="#22ff00" d="M589.3,180 767.4,180 767.4,484 763.7,484 720,406.9 591.3,184.2 589,180.2ZM585.3,393.2 720.5,465 755.4,484 748.1,484 701.5,468.1 585,429.8 585,393.2ZM585.3,448 720,479.1 739.8,484 732.5,484 732.1,483.6 704.5,478.6 585,456.8 585,448ZM585.3,463.2 723.6,483.6 724.2,484 716.9,484 716,483.6 585,467.1 585,463.2ZM585.3,470.3 708,483.7 708.6,484 701.3,484 700.5,483.6 585,472.5ZM585.3,474.5 692,483.6 693,484 685.7,484 684.5,483.6 585,475.9ZM585.3,477.2 676.5,483.6 677.4,484 670.1,484 669.4,483.5 663.4,483.4 585,478.1ZM585.3,479.1 645.5,482.8 637.9,483 636.4,482.5 629.3,482.4 585,479.9ZM585.3,480.5 608.6,481.8 599.8,482 598.3,481.5 585,481ZM585.3,481.5 588,481.8 585,482ZM589.8,482.2 598.7,482.3 585,483.4 585,482.6ZM609.3,482.1 618.1,482.3 609.8,482.6 600.3,483.6 599.3,484 591.9,484 595.8,483.2 608.3,482.5ZM619.3,482.7 627.5,482.8 620.8,483.1 615.3,483.7 615,484 607.6,484 608.3,483.7ZM629.3,483.2 636.8,483.3 631.4,483.6 630.6,484 623.3,484 623.8,483.7ZM645.9,483.2 653.7,483.3 646.9,483.5 646.2,484 638.9,484 639.4,483.7ZM654.9,483.6 660.9,483.6 661.8,484 654.5,484Z"/>
<path fill="#69ff00" d="M601.8,180 767.4,180 767.4,484 764,484 720,400.8 610.3,196.9 601.5,180.2ZM585.3,395.2 721.5,466 755.2,484 748.4,484 700.5,467.5 585,429 585,395.2ZM585.3,448.3 720,479.2 739.6,484 732.8,484 732.1,483.6 705,478.6 585,456.5 585,448.3ZM585.3,463.3 723.6,483.7 724,484 717.2,484 716,483.6 585,466.9ZM585.3,470.4 707.5,483.6 708.4,484 701.6,484 700.5,483.6 585,472.4ZM585.3,474.5 692,483.7 692.8,484 686,484 685,483.6 585,475.8ZM585.3,477.2 670.2,483.3 663.9,483.4 585,478.1ZM585.3,479.1 637,482.3 629.8,482.4 627.8,482 585,479.8ZM585.3,480.6 589.3,480.8 585,481ZM589.8,481 598.8,481.3 589.3,481.3ZM585.3,481.6 587.6,481.8 585,481.9ZM599.8,481.6 608.3,481.8 599.3,481.8ZM590.3,482.2 598.4,482.3 585,483.4 585,482.6ZM609.8,482.1 617.8,482.3 609.3,482.3ZM601.3,482.7 609.1,482.8 603.3,483.1 599,484 592.2,484 595.5,483.3ZM619.8,482.7 627.2,482.8 620.3,483.1 615.3,483.6 614.7,484 607.9,484 608.8,483.6ZM629.3,483.2 636.6,483.3 630.9,483.6 630.4,484 623.6,484 623.8,483.7ZM646.4,483.1 653.4,483.3 646.1,483.3ZM639.4,483.7 645.4,483.5 645.9,483.6 646,484 639.2,484ZM654.9,483.7 660.4,483.6 661.6,484 654.8,484ZM670.4,483.7 675.9,483.6 677.2,484 670.4,484Z"/>
<path fill="#99ff00" d="M614.3,180 767.4,180 767.4,484 764.3,484 720,393.5 613.9,180.2ZM585.3,397.1 721.5,466.5 754.9,484 748.7,484 748.1,483.5 700,467 585,428.2 585,397.1ZM585.3,448.7 719.5,479.2 739.3,484 733.1,484 732.6,483.6 705.5,478.6 585,456.3 585,448.7ZM585.3,463.5 723.6,483.7 723.7,484 717.5,484 716.5,483.6 585,466.8ZM585.3,470.5 707.5,483.7 708.1,484 701.9,484 701,483.6 585,472.4ZM585.3,474.6 692,483.7 692.5,484 686.3,484 685.5,483.5 585,475.8ZM585.3,477.3 662.9,482.8 656.9,482.9 588.3,478.3 585,478ZM585.3,479.2 620.2,481.3 612.8,481.4 585,479.8ZM585.3,480.6 588.9,480.8 585,480.9ZM585.3,481.6 587.3,481.8 585,481.9ZM620.3,481.5 628.5,481.8 622.3,481.9ZM590.8,482.2 598.1,482.3 591.3,482.5 585,483.3 585,482.6ZM629.3,482.1 636.7,482.3 629,482.3ZM601.8,482.7 608.8,482.8 603.3,483.1 599.3,483.6 598.7,484 592.4,484 595.7,483.3ZM612.8,483.2 619.5,483.3 615.3,483.6 614.5,484 608.1,484ZM629.8,483.2 636.3,483.3 630.9,483.5 630.1,484 623.8,484ZM663.4,483.1 669.9,483.3 663.2,483.3ZM639.9,483.7 644.9,483.6 645.7,484 639.4,484ZM655.4,483.7 660.4,483.6 661.3,484 655,484ZM670.9,483.6 675.9,483.6 676.9,484 670.7,484Z"/>
<path fill="#e0ff00" d="M627.3,180 767.4,180 767.4,484 764.5,484 720.3,385.1 627,180.2ZM585.3,399.1 723.1,467.8 754.7,484 748.9,484 748.6,483.6 701,467 585,427.3 585,399.1ZM585.3,449.1 721.5,479.8 739.1,484 733.3,484 732.6,483.6 585,456 585,449.1ZM585.3,463.7 723.5,484 717.7,484 716.5,483.5 585,466.7ZM585.3,470.6 707.5,483.7 707.9,484 702.1,484 701,483.5 585,472.3ZM585.3,474.6 686.5,483.3 681,483.3 585,475.7ZM585.3,477.3 655.6,482.3 649.4,482.3 588.3,478.3 585,478ZM585.3,479.2 611.6,480.8 604.8,480.9 586.3,479.8 585,479.7ZM585.3,480.6 588.5,480.8 585,480.9ZM590.3,481.2 598,481.3 590,481.3ZM612.3,481.1 619.9,481.3 611.8,481.3ZM585.3,481.6 586.9,481.8 585,481.9ZM600.3,481.7 607.6,481.8 600,481.8ZM610.3,482.2 617.1,482.3 610,482.3ZM585.3,482.6 590.3,482.8 585,483.3ZM601.8,482.8 608.4,482.8 602.8,483.1 598.8,483.7 598.5,484 592.7,484 596,483.3ZM620.3,482.7 626.6,482.8 619.9,482.8ZM638.4,482.7 644.6,482.8 638,482.8ZM656.4,482.6 662.6,482.8 656,482.8ZM613.3,483.2 619.2,483.3 614.8,483.6 614.2,484 608.4,484ZM629.8,483.2 636,483.3 630.3,483.5 629.8,484 624.1,484ZM646.9,483.2 652.8,483.3 646.6,483.3ZM663.9,483.1 669.6,483.3 663.5,483.3ZM639.9,483.7 644.4,483.6 645.4,484 639.7,484ZM655.4,483.7 659.9,483.6 661,484 655.3,484ZM670.9,483.7 675.4,483.6 676.7,484 670.9,484ZM687,483.5 692,483.7 692.3,484 686.5,484Z"/>
<path fill="#ffee00" d="M640.9,180 767.4,180 767.4,484 764.8,484 720,373.3 641.4,182.2 640.6,180.2ZM585.3,401 724.1,468.8 754.4,484 749.2,484 748.6,483.5 699.5,466.1 585,426.4 585,401ZM585.3,449.5 721.1,479.8 738.8,484 733.6,484 732.6,483.5 585,455.7 585,449.5ZM585.3,463.8 723.2,484 718,484 717,483.5 585,466.6ZM585.3,470.7 707.6,484 702.4,484 701.5,483.5 585,472.2ZM585.3,474.7 680.3,482.8 674.9,482.8 586.4,475.8 585,475.6ZM585.3,477.4 641.2,481.3 634.9,481.3 588.9,478.3 585,478ZM585.3,479.2 594.4,479.8 586.3,479.8 585,479.5ZM585.3,480.6 588.1,480.8 585,480.9ZM603.8,480.6 611.1,480.8 603.5,480.8ZM590.8,481.2 597.7,481.3 590.4,481.3ZM585.3,481.7 586.6,481.8 585,481.8ZM600.8,481.7 607.2,481.8 600.3,481.8ZM621.3,481.7 627.8,481.8 621,481.8ZM641.9,481.6 648.2,481.8 641.4,481.8ZM591.3,482.2 597.4,482.3 591,482.3ZM610.8,482.2 616.8,482.3 610.3,482.3ZM585.3,482.7 590,482.8 585,483.1ZM596.8,483.2 601.9,483.3 598.8,483.6 598.2,484 593,484ZM613.3,483.2 618.9,483.3 614.3,483.6 613.9,484 608.7,484ZM647.4,483.2 652.5,483.3 646.9,483.3ZM681,483.1 686.2,483.3 680.6,483.3ZM624.8,483.7 628.8,483.6 629.6,484 624.4,484ZM640.4,483.7 644.4,483.6 645.2,484 640,484ZM655.9,483.7 659.9,483.7 660.8,484 655.6,484ZM671.4,483.7 675.4,483.7 676.4,484 671.2,484ZM687,483.7 691,483.7 692,484 686.8,484Z"/>
<path fill="#ffa700" d="M655.4,180 767.4,180 767.4,484 765.1,484 720.2,358.7 655.1,180.2ZM585.3,403 725.2,469.8 754.1,484 749.5,484 749.1,483.6 700.5,466.1 585,425.3 585,403ZM585.3,449.9 720.6,479.8 738.5,484 733.9,484 733.1,483.5 585,455.4 585,449.9ZM585.3,464 722.9,484 718.3,484 717.5,483.5 585,466.4ZM585.3,470.8 702.6,483.3 697.7,483.3 585,472.1ZM585.3,474.8 668.2,481.8 662.4,481.8 587.1,475.8 585,475.6ZM585.3,477.5 619.4,479.8 612.3,479.8 585,477.9ZM585.3,479.2 585.6,479.3 585,479.4ZM586.8,479.7 593.9,479.8 586.4,479.8ZM619.8,480 626.6,480.3 619.5,480.3ZM585.3,480.7 587.6,480.8 585,480.9ZM604.3,480.7 610.7,480.8 603.9,480.8ZM627.3,480.6 633.7,480.8 627,480.8ZM591.3,481.2 597.2,481.3 590.8,481.3ZM634.9,481.1 640.7,481.3 634.4,481.3ZM585.3,481.7 586.2,481.8 585,481.8ZM621.8,481.7 627.4,481.8 621.4,481.8ZM591.8,482.2 597,482.3 591.3,482.3ZM630.3,482.2 635.7,482.3 630,482.3ZM668.9,482.1 674.1,482.3 668.5,482.3ZM585.3,482.7 589.6,482.8 585,483ZM602.8,482.7 607.8,482.8 602.4,482.8ZM656.9,482.7 661.9,482.8 656.7,482.8ZM674.9,482.6 680,482.8 674.7,482.8ZM596.8,483.2 601.6,483.3 598.3,483.6 597.9,484 593.3,484ZM613.8,483.2 618.6,483.3 613.8,483.5 613.6,484 609,484ZM630.9,483.2 635.4,483.3 630.4,483.3ZM664.4,483.2 669,483.3 664.1,483.3ZM624.8,483.7 628.3,483.6 629.3,484 624.7,484ZM640.4,483.7 644.4,483.7 644.9,484 640.3,484ZM655.9,483.7 659.9,483.7 660.5,484 655.9,484ZM671.9,483.7 675.4,483.7 676.1,484 671.5,484ZM687.5,483.7 691.5,483.7 691.7,484 687.1,484ZM703,483.5 707.3,484 702.7,484Z"/>
<path fill="#ff7700" d="M671.4,180 767.4,180 767.4,484 765.4,484 720.2,336.7 671,180.2ZM585.3,405.1 730.5,472.8 753.8,484 749.8,484 749.1,483.4 699,465.1 585,424.1 585,405.1ZM585.3,450.4 720.1,479.8 738.2,484 734.2,484 733.6,483.5 585,455.1 585,450.4ZM585.3,464.2 722.6,484 718.6,484 718,483.5 585,466.3ZM585.3,470.9 692.9,482.3 688.1,482.3 587.7,472.3 585,472ZM585.3,474.9 650.1,480.3 644.1,480.3 587.8,475.8 585,475.5ZM585.3,477.6 597.4,478.3 590.1,478.3 585,477.9ZM597.8,478.6 604.6,478.8 597.5,478.8ZM605.3,479.1 611.8,479.3 605,479.3ZM587.3,479.7 593.4,479.8 587,479.8ZM612.8,479.7 618.9,479.8 612.5,479.8ZM620.3,480.2 626,480.3 620.1,480.3ZM585.3,480.7 587.1,480.8 585,480.8ZM604.8,480.7 610.2,480.8 604.4,480.8ZM627.8,480.7 633.2,480.8 627.4,480.8ZM591.8,481.2 596.8,481.3 591.3,481.3ZM656.9,481.1 661.9,481.3 656.5,481.3ZM585.3,481.7 585.8,481.8 585,481.8ZM662.9,481.7 667.8,481.8 662.7,481.8ZM630.9,482.2 635.2,482.3 630.4,482.3ZM649.9,482.2 654.5,482.3 649.6,482.3ZM585.3,482.7 589.2,482.8 585,482.9ZM603.3,482.7 607.4,482.8 602.8,482.8ZM621.3,482.7 625.5,482.8 621,482.8ZM639.4,482.7 643.5,482.8 639,482.8ZM657.4,482.7 661.6,482.8 657,482.8ZM675.4,482.7 679.6,482.8 675.1,482.8ZM693.5,482.6 697.6,482.8 693.1,482.8ZM597.3,483.2 601.3,483.3 598.3,483.5 597.6,484 593.6,484ZM614.3,483.2 618.2,483.3 614,483.3ZM647.9,483.2 651.8,483.3 647.6,483.3ZM664.9,483.2 668.6,483.3 664.4,483.3ZM698.5,483.1 702.3,483.3 698.1,483.3ZM609.3,483.8 612.8,483.6 613.3,484ZM625.3,483.7 628.3,483.7 628.9,484 625,484ZM640.9,483.7 643.9,483.7 644.5,484 640.6,484ZM656.4,483.7 659.9,483.7 660.1,484 656.2,484ZM671.9,483.7 675.4,483.7 675.7,484 671.8,484ZM687.5,483.7 691,483.7 691.4,484 687.4,484ZM703.5,483.6 707,484 703,484Z"/>
<path fill="#ff3000" d="M690,180 767.4,180 767.4,484 765.8,484 723.8,314.8 689.6,180.2ZM585.3,407.4 658.4,440.4 753.4,484 750.2,484 749.6,483.5 700.5,465 585,422.6 585,407.4ZM585.3,450.9 724.1,480.8 737.8,484 734.6,484 734.1,483.5 585,454.7 585,450.9ZM585.3,464.4 715.2,482.8 711.5,482.8 585,466ZM585.3,471 673.6,480.3 668.8,480.3 585,471.9ZM585.3,475 619.8,477.8 613.7,477.8 588.7,475.8 585,475.4ZM585.3,477.6 589.4,477.8 585,477.8ZM591.3,478.2 596.6,478.3 590.8,478.3ZM620.3,478.1 625.8,478.3 620.1,478.3ZM638.9,479.7 643.6,479.8 638.5,479.8ZM596.8,480.2 601.2,480.3 596.4,480.3ZM585.3,480.7 586.6,480.8 585,480.8ZM605.3,480.7 609.7,480.8 605,480.8ZM628.3,480.7 632.6,480.8 628,480.8ZM673.9,480.6 678.3,480.8 673.7,480.8ZM592.3,481.2 596.2,481.3 591.9,481.3ZM657.4,481.2 661.4,481.3 657,481.3ZM679,481.1 683,481.3 678.7,481.3ZM684,481.6 687.7,481.8 683.7,481.8ZM631.4,482.2 634.8,482.3 630.9,482.3ZM650.4,482.2 654,482.3 650.1,482.3ZM689,482.2 692.5,482.3 688.6,482.3ZM585.3,482.7 588.8,482.8 585,482.8ZM621.8,482.7 625.1,482.8 621.4,482.8ZM639.9,482.7 643.1,482.8 639.4,482.8ZM657.9,482.7 661.1,482.8 657.5,482.8ZM675.9,482.7 679.1,482.8 675.5,482.8ZM694,482.7 697.2,482.8 693.5,482.8ZM597.8,483.2 600.9,483.3 597.4,483.3ZM614.8,483.2 617.8,483.3 614.4,483.3ZM648.4,483.2 651.4,483.3 648,483.3ZM682,483.2 685.1,483.3 681.7,483.3ZM715.5,483 718.7,483.3 715.3,483.3ZM594.3,483.7 596.8,483.6 597.2,484 594,484ZM609.8,483.7 612.3,483.7 612.9,484 609.7,484ZM625.8,483.7 628.3,483.7 628.5,484 625.4,484ZM641.4,483.7 644.1,484 641,484ZM656.9,483.7 659.7,484 656.6,484ZM672.4,483.7 675.4,484 672.2,484ZM688,483.7 691,484 687.8,484ZM703.5,483.7 706.6,484 703.4,484ZM719,483.7 722.2,484 719,484Z"/>
<path fill="#ff0000" d="M713.5,180 767.4,180 767.4,484 766.3,484 713.2,180.2ZM585.3,410.1 658.1,441.9 752.9,484 750.7,484 750.1,483.5 700,464 625.8,435.8 585,420.7 585,410.1ZM585.3,451.5 735,483.3 732.6,483.3 623.8,461.5 585,454.1ZM585.3,464.7 686.2,478.8 682.5,478.8 585,465.8ZM585.3,471.2 615.4,474.3 610.1,474.3 585,471.8ZM615.8,474.6 620.2,474.8 615.5,474.8ZM585.3,475.2 588.6,475.3 585,475.3ZM620.8,475.1 625,475.3 620.4,475.3ZM590.3,475.7 594.6,475.8 589.9,475.8ZM635.4,476.6 639.6,476.8 635.1,476.8ZM608.8,477.2 612.8,477.3 608.4,477.3ZM640.4,477.1 644.4,477.3 639.9,477.3ZM585.3,477.7 588.4,477.8 585,477.8ZM615.3,477.7 618.7,477.8 614.9,477.8ZM621.3,478.2 624.8,478.3 621,478.3ZM606.8,479.2 610.3,479.3 606.5,479.3ZM659.9,479.2 663.3,479.3 659.6,479.3ZM686.5,479 689.8,479.3 686.2,479.3ZM588.8,479.7 592,479.8 588.4,479.8ZM664.9,479.7 668.1,479.8 664.6,479.8ZM621.8,480.2 624.7,480.3 621.4,480.3ZM645.9,480.2 648.8,480.3 645.4,480.3ZM669.9,480.2 672.8,480.3 669.5,480.3ZM694,480.1 696.9,480.3 693.6,480.3ZM585.3,480.7 585.9,480.8 585,480.8ZM651.9,480.7 654.8,480.8 651.5,480.8ZM614.8,481.2 617.4,481.3 614.4,481.3ZM636.4,481.2 639.1,481.3 636,481.3ZM701.5,481.1 704,481.3 701,481.3ZM602.8,481.7 605.3,481.8 602.3,481.8ZM623.3,481.7 625.8,481.8 623,481.8ZM705,481.7 707.6,481.8 704.7,481.8ZM593.3,482.2 595.5,482.3 592.8,482.3ZM631.9,482.2 634.2,482.3 631.5,482.3ZM670.4,482.2 672.6,482.3 669.9,482.3ZM689.5,482.2 691.9,482.3 689.2,482.3ZM604.3,482.7 606.4,482.8 603.8,482.8ZM622.3,482.7 624.5,482.8 622,482.8ZM640.4,482.7 642.6,482.8 640,482.8ZM658.4,482.7 660.6,482.8 658,482.8ZM676.5,482.7 678.6,482.8 676.1,482.8ZM694.5,482.7 696.6,482.8 694.1,482.8ZM712.5,482.7 714.6,482.8 712.1,482.8ZM598.3,483.2 600.3,483.3 597.9,483.3ZM615.3,483.2 617.3,483.3 614.9,483.3ZM648.9,483.2 650.9,483.3 648.5,483.3ZM682.5,483.2 684.5,483.3 682.2,483.3ZM594.8,483.7 596.3,483.7 596.7,484 594.5,484ZM610.3,483.7 612.4,484 610.2,484ZM626.3,483.7 628.1,484 625.8,484ZM641.9,483.7 643.7,484 641.5,484ZM657.4,483.7 659.3,484 657.1,484ZM672.9,483.7 674.9,484 672.7,484ZM688.5,483.7 690.5,484 688.3,484ZM704,483.7 706.1,484 703.9,484ZM719.5,483.7 721.7,484 719.5,484ZM735.1,483.7 736.6,483.7 737.3,484 735.1,484Z"/>
<rect x="585.0" y="475.8" width="3.5" height="2.8" fill="#ff7700"/>
<rect x="588.3" y="475.8" width="3.5" height="2.8" fill="#69ff00"/>
<rect x="591.5" y="475.8" width="3.5" height="2.8" fill="#00fffc"/>
<rect x="594.8" y="475.8" width="3.5" height="2.8" fill="#3300ff"/>
<rect x="598.0" y="475.8" width="3.5" height="2.8" fill="#6300ff"/>
<rect x="601.3" y="475.8" width="3.5" height="2.8" fill="#0044ff"/>
<rect x="604.5" y="475.8" width="3.5" height="2.8" fill="#00ff55"/>
<rect x="607.8" y="475.8" width="3.5" height="2.8" fill="#ffee00"/>
<rect x="611.1" y="475.8" width="3.5" height="2.8" fill="#ff0000"/>
<rect x="614.3" y="475.8" width="3.5" height="2.8" fill="#ff0000"/>
<rect x="617.6" y="475.8" width="3.5" height="2.8" fill="#ffee00"/>
<rect x="620.8" y="475.8" width="3.5" height="2.8" fill="#00ff55"/>
<rect x="624.1" y="475.8" width="3.5" height="2.8" fill="#0044ff"/>
<rect x="627.3" y="475.8" width="3.5" height="2.8" fill="#6300ff"/>
<rect x="630.6" y="475.8" width="3.5" height="2.8" fill="#3300ff"/>
<rect x="633.9" y="475.8" width="3.5" height="2.8" fill="#00fffc"/>
<rect x="637.1" y="475.8" width="3.5" height="2.8" fill="#69ff00"/>
<rect x="640.4" y="475.8" width="3.5" height="2.8" fill="#ff3000"/>
<rect x="643.6" y="475.8" width="3.5" height="2.8" fill="#ff0000"/>
<rect x="646.9" y="475.8" width="3.5" height="2.8" fill="#ff7700"/>
<rect x="650.1" y="475.8" width="3.5" height="2.8" fill="#22ff00"/>
<rect x="653.4" y="475.8" width="3.5" height="2.8" fill="#00bbff"/>
<rect x="656.7" y="475.8" width="3.5" height="2.8" fill="#6300ff"/>
<rect x="659.9" y="475.8" width="3.5" height="2.8" fill="#6300ff"/>
<rect x="663.2" y="475.8" width="3.5" height="2.8" fill="#0044ff"/>
<rect x="666.4" y="475.8" width="3.5" height="2.8" fill="#00ff0e"/>
<rect x="669.7" y="475.8" width="3.5" height="2.8" fill="#ffa700"/>
<rect x="672.9" y="475.8" width="3.5" height="2.8" fill="#ff0000"/>
<rect x="676.2" y="475.8" width="3.5" height="2.8" fill="#ff3000"/>
<rect x="679.5" y="475.8" width="3.5" height="2.8" fill="#e0ff00"/>
<rect x="682.7" y="475.8" width="3.5" height="2.8" fill="#00ffcc"/>
<rect x="686.0" y="475.8" width="3.5" height="2.8" fill="#0014ff"/>
<rect x="689.2" y="475.8" width="3.5" height="2.8" fill="#6300ff"/>
<rect x="692.5" y="475.8" width="3.5" height="2.8" fill="#3300ff"/>
<rect x="695.7" y="475.8" width="3.5" height="2.8" fill="#00ffcc"/>
<rect x="699.0" y="475.8" width="3.5" height="2.8" fill="#99ff00"/>
<rect x="702.3" y="475.8" width="3.5" height="2.8" fill="#ff3000"/>
<rect x="705.5" y="475.8" width="3.5" height="2.8" fill="#ff0000"/>
<rect x="708.8" y="475.8" width="3.5" height="2.8" fill="#ffa700"/>
<rect x="712.0" y="475.8" width="3.5" height="2.8" fill="#00ff0e"/>
<rect x="715.3" y="475.8" width="3.5" height="2.8" fill="#008bff"/>
<rect x="718.5" y="475.8" width="3.5" height="2.8" fill="#6300ff"/>
<rect x="721.8" y="475.8" width="3.5" height="2.8" fill="#6300ff"/>
<rect x="725.1" y="475.8" width="3.5" height="2.8" fill="#00bbff"/>
<rect x="728.3" y="475.8" width="3.5" height="2.8" fill="#22ff00"/>
<rect x="731.6" y="475.8" width="3.5" height="2.8" fill="#ff7700"/>
<rect x="734.8" y="475.8" width="3.5" height="2.8" fill="#ff0000"/>
<rect x="738.1" y="475.8" width="3.5" height="2.8" fill="#ff3000"/>
<rect x="741.3" y="475.8" width="3.5" height="2.8" fill="#99ff00"/>
<rect x="744.6" y="475.8" width="3.5" height="2.8" fill="#00fffc"/>
<rect x="747.9" y="475.8" width="3.5" height="2.8" fill="#3300ff"/>
<rect x="751.1" y="475.8" width="3.5" height="2.8" fill="#6300ff"/>
<rect x="754.4" y="475.8" width="3.5" height="2.8" fill="#0044ff"/>
<rect x="757.6" y="475.8" width="3.5" height="2.8" fill="#00ff85"/>
<rect x="760.9" y="475.8" width="3.5" height="2.8" fill="#ffee00"/>
<rect x="764.1" y="475.8" width="3.5" height="2.8" fill="#ff0000"/>
<rect x="586.6" y="478.5" width="3.5" height="2.8" fill="#0044ff"/>
<rect x="589.9" y="478.5" width="3.5" height="2.8" fill="#00ff0e"/>
<rect x="593.1" y="478.5" width="3.5" height="2.8" fill="#ff7700"/>
<rect x="596.4" y="478.5" width="3.5" height="2.8" fill="#ff0000"/>
<rect x="599.7" y="478.5" width="3.5" height="2.8" fill="#ffee00"/>
<rect x="602.9" y="478.5" width="3.5" height="2.8" fill="#00ffcc"/>
<rect x="606.2" y="478.5" width="3.5" height="2.8" fill="#3300ff"/>
<rect x="609.4" y="478.5" width="3.5" height="2.8" fill="#6300ff"/>
<rect x="612.7" y="478.5" width="3.5" height="2.8" fill="#00fffc"/>
<rect x="615.9" y="478.5" width="3.5" height="2.8" fill="#e0ff00"/>
<rect x="619.2" y="478.5" width="3.5" height="2.8" fill="#ff0000"/>
<rect x="622.5" y="478.5" width="3.5" height="2.8" fill="#ff3000"/>
<rect x="625.7" y="478.5" width="3.5" height="2.8" fill="#22ff00"/>
<rect x="629.0" y="478.5" width="3.5" height="2.8" fill="#0044ff"/>
<rect x="632.2" y="478.5" width="3.5" height="2.8" fill="#6300ff"/>
<rect x="635.5" y="478.5" width="3.5" height="2.8" fill="#0044ff"/>
<rect x="638.7" y="478.5" width="3.5" height="2.8" fill="#00ff0e"/>
<rect x="642.0" y="478.5" width="3.5" height="2.8" fill="#ff7700"/>
<rect x="645.3" y="478.5" width="3.5" height="2.8" fill="#ff0000"/>
<rect x="648.5" y="478.5" width="3.5" height="2.8" fill="#ffee00"/>
<rect x="651.8" y="478.5" width="3.5" height="2.8" fill="#00fffc"/>
<rect x="655.0" y="478.5" width="3.5" height="2.8" fill="#6300ff"/>
<rect x="658.3" y="478.5" width="3.5" height="2.8" fill="#6300ff"/>
<rect x="661.5" y="478.5" width="3.5" height="2.8" fill="#00ffcc"/>
<rect x="664.8" y="478.5" width="3.5" height="2.8" fill="#ffee00"/>
<rect x="668.1" y="478.5" width="3.5" height="2.8" fill="#ff0000"/>
<rect x="671.3" y="478.5" width="3.5" height="2.8" fill="#ff7700"/>
<rect x="674.6" y="478.5" width="3.5" height="2.8" fill="#00ff0e"/>
<rect x="677.8" y="478.5" width="3.5" height="2.8" fill="#0014ff"/>
<rect x="681.1" y="478.5" width="3.5" height="2.8" fill="#6300ff"/>
<rect x="684.3" y="478.5" width="3.5" height="2.8" fill="#0044ff"/>
<rect x="687.6" y="478.5" width="3.5" height="2.8" fill="#22ff00"/>
<rect x="690.9" y="478.5" width="3.5" height="2.8" fill="#ff3000"/>
<rect x="694.1" y="478.5" width="3.5" height="2.8" fill="#ff0000"/>
<rect x="697.4" y="478.5" width="3.5" height="2.8" fill="#e0ff00"/>
<rect x="700.6" y="478.5" width="3.5" height="2.8" fill="#00fffc"/>
<rect x="703.9" y="478.5" width="3.5" height="2.8" fill="#6300ff"/>
<rect x="707.1" y="478.5" width="3.5" height="2.8" fill="#3300ff"/>
<rect x="710.4" y="478.5" width="3.5" height="2.8" fill="#00ffcc"/>
<rect x="713.7" y="478.5" width="3.5" height="2.8" fill="#ffee00"/>
<rect x="716.9" y="478.5" width="3.5" height="2.8" fill="#ff0000"/>
<rect x="720.2" y="478.5" width="3.5" height="2.8" fill="#ff7700"/>
<rect x="723.4" y="478.5" width="3.5" height="2.8" fill="#00ff55"/>
<rect x="726.7" y="478.5" width="3.5" height="2.8" fill="#0014ff"/>
<rect x="729.9" y="478.5" width="3.5" height="2.8" fill="#6300ff"/>
<rect x="733.2" y="478.5" width="3.5" height="2.8" fill="#008bff"/>
<rect x="736.5" y="478.5" width="3.5" height="2.8" fill="#69ff00"/>
<rect x="739.7" y="478.5" width="3.5" height="2.8" fill="#ff3000"/>
<rect x="743.0" y="478.5" width="3.5" height="2.8" fill="#ff0000"/>
<rect x="746.2" y="478.5" width="3.5" height="2.8" fill="#99ff00"/>
<rect x="749.5" y="478.5" width="3.5" height="2.8" fill="#00bbff"/>
<rect x="752.7" y="478.5" width="3.5" height="2.8" fill="#6300ff"/>
<rect x="756.0" y="478.5" width="3.5" height="2.8" fill="#3300ff"/>
<rect x="759.3" y="478.5" width="3.5" height="2.8" fill="#00ff85"/>
<rect x="762.5" y="478.5" width="3.5" height="2.8" fill="#ffa700"/>
<rect x="765.8" y="478.5" width="1.8" height="2.8" fill="#ff0000"/>
<rect x="585.0" y="481.2" width="3.5" height="2.9" fill="#ffa700"/>
<rect x="588.3" y="481.2" width="3.5" height="2.9" fill="#ff0000"/>
<rect x="591.5" y="481.2" width="3.5" height="2.9" fill="#22ff00"/>
<rect x="594.8" y="481.2" width="3.5" height="2.9" fill="#3300ff"/>
<rect x="598.0" y="481.2" width="3.5" height="2.9" fill="#3300ff"/>
<rect x="601.3" y="481.2" width="3.5" height="2.9" fill="#22ff00"/>
<rect x="604.5" y="481.2" width="3.5" height="2.9" fill="#ff0000"/>
<rect x="607.8" y="481.2" width="3.5" height="2.9" fill="#ffa700"/>
<rect x="611.1" y="481.2" width="3.5" height="2.9" fill="#00bbff"/>
<rect x="614.3" y="481.2" width="3.5" height="2.9" fill="#6300ff"/>
<rect x="617.6" y="481.2" width="3.5" height="2.9" fill="#00fffc"/>
<rect x="620.8" y="481.2" width="3.5" height="2.9" fill="#ffa700"/>
<rect x="624.1" y="481.2" width="3.5" height="2.9" fill="#ff0000"/>
<rect x="627.3" y="481.2" width="3.5" height="2.9" fill="#22ff00"/>
<rect x="630.6" y="481.2" width="3.5" height="2.9" fill="#3300ff"/>
<rect x="633.9" y="481.2" width="3.5" height="2.9" fill="#3300ff"/>
<rect x="637.1" y="481.2" width="3.5" height="2.9" fill="#22ff00"/>
<rect x="640.4" y="481.2" width="3.5" height="2.9" fill="#ff0000"/>
<rect x="643.6" y="481.2" width="3.5" height="2.9" fill="#ffa700"/>
<rect x="646.9" y="481.2" width="3.5" height="2.9" fill="#00bbff"/>
<rect x="650.1" y="481.2" width="3.5" height="2.9" fill="#6300ff"/>
<rect x="653.4" y="481.2" width="3.5" height="2.9" fill="#00fffc"/>
<rect x="656.7" y="481.2" width="3.5" height="2.9" fill="#ff7700"/>
<rect x="659.9" y="481.2" width="3.5" height="2.9" fill="#ff0000"/>
<rect x="663.2" y="481.2" width="3.5" height="2.9" fill="#00ff0e"/>
<rect x="666.4" y="481.2" width="3.5" height="2.9" fill="#3300ff"/>
<rect x="669.7" y="481.2" width="3.5" height="2.9" fill="#0014ff"/>
<rect x="672.9" y="481.2" width="3.5" height="2.9" fill="#69ff00"/>
<rect x="676.2" y="481.2" width="3.5" height="2.9" fill="#ff0000"/>
<rect x="679.5" y="481.2" width="3.5" height="2.9" fill="#ffee00"/>
<rect x="682.7" y="481.2" width="3.5" height="2.9" fill="#008bff"/>
<rect x="686.0" y="481.2" width="3.5" height="2.9" fill="#6300ff"/>
<rect x="689.2" y="481.2" width="3.5" height="2.9" fill="#00ffcc"/>
<rect x="692.5" y="481.2" width="3.5" height="2.9" fill="#ff7700"/>
<rect x="695.7" y="481.2" width="3.5" height="2.9" fill="#ff0000"/>
<rect x="699.0" y="481.2" width="3.5" height="2.9" fill="#00ff55"/>
<rect x="702.3" y="481.2" width="3.5" height="2.9" fill="#6300ff"/>
<rect x="705.5" y="481.2" width="3.5" height="2.9" fill="#0014ff"/>
<rect x="708.8" y="481.2" width="3.5" height="2.9" fill="#99ff00"/>
<rect x="712.0" y="481.2" width="3.5" height="2.9" fill="#ff0000"/>
<rect x="715.3" y="481.2" width="3.5" height="2.9" fill="#ffee00"/>
<rect x="718.5" y="481.2" width="3.5" height="2.9" fill="#008bff"/>
<rect x="721.8" y="481.2" width="3.5" height="2.9" fill="#6300ff"/>
<rect x="725.1" y="481.2" width="3.5" height="2.9" fill="#00ffcc"/>
<rect x="728.3" y="481.2" width="3.5" height="2.9" fill="#ff7700"/>
<rect x="731.6" y="481.2" width="3.5" height="2.9" fill="#ff3000"/>
<rect x="734.8" y="481.2" width="3.5" height="2.9" fill="#00ff55"/>
<rect x="738.1" y="481.2" width="3.5" height="2.9" fill="#6300ff"/>
<rect x="741.3" y="481.2" width="3.5" height="2.9" fill="#0044ff"/>
<rect x="744.6" y="481.2" width="3.5" height="2.9" fill="#99ff00"/>
<rect x="747.9" y="481.2" width="3.5" height="2.9" fill="#ff0000"/>
<rect x="751.1" y="481.2" width="3.5" height="2.9" fill="#e0ff00"/>
<rect x="754.4" y="481.2" width="3.5" height="2.9" fill="#0044ff"/>
<rect x="757.6" y="481.2" width="3.5" height="2.9" fill="#6300ff"/>
<rect x="760.9" y="481.2" width="3.5" height="2.9" fill="#00ff85"/>
<rect x="764.1" y="481.2" width="3.5" height="2.9" fill="#ff3000"/>
<rect x="585" y="178.5" width="182.4" height="305.5" fill="none" stroke="#000" stroke-width="1"/>
<line x1="585" y1="178.0" x2="585" y2="484.7" stroke="#000" stroke-width="1.6"/>
<line x1="584.2" y1="484.0" x2="767.4" y2="484.0" stroke="#000" stroke-width="1.6"/>
<path d="M585.0,484.0h3.5M585.0,477.8h3.5M585.0,471.5h3.5M585.0,465.3h3.5M585.0,459.1h6M585.0,452.8h3.5M585.0,446.6h3.5M585.0,440.4h3.5M585.0,434.1h3.5M585.0,427.9h6M585.0,421.7h3.5M585.0,415.4h3.5M585.0,409.2h3.5M585.0,402.9h3.5M585.0,396.7h6M585.0,390.5h3.5M585.0,384.2h3.5M585.0,378.0h3.5M585.0,371.8h3.5M585.0,365.5h6M585.0,359.3h3.5M585.0,353.1h3.5M585.0,346.8h3.5M585.0,340.6h3.5M585.0,334.4h6M585.0,328.1h3.5M585.0,321.9h3.5M585.0,315.7h3.5M585.0,309.4h3.5M585.0,303.2h6M585.0,297.0h3.5M585.0,290.7h3.5M585.0,284.5h3.5M585.0,278.3h3.5M585.0,272.0h6M585.0,265.8h3.5M585.0,259.6h3.5M585.0,253.3h3.5M585.0,247.1h3.5M585.0,240.8h6M585.0,234.6h3.5M585.0,228.4h3.5M585.0,222.1h3.5M585.0,215.9h3.5M585.0,209.7h6M585.0,203.4h3.5M585.0,197.2h3.5M585.0,191.0h3.5M585.0,184.7h3.5M585.0,178.5h6M585.0,484.0v-5M594.1,484.0v-3M603.2,484.0v-5M612.4,484.0v-3M621.5,484.0v-5M630.6,484.0v-3M639.7,484.0v-5M648.8,484.0v-3M658.0,484.0v-5M667.1,484.0v-3M676.2,484.0v-5M685.3,484.0v-3M694.4,484.0v-5M703.6,484.0v-3M712.7,484.0v-5M721.8,484.0v-3M730.9,484.0v-5M740.0,484.0v-3M749.2,484.0v-5M758.3,484.0v-3M767.4,484.0v-5" stroke="#000" stroke-width="1" fill="none"/>
<text x="583" y="461.1" font-size="6" text-anchor="end">5</text>
<text x="583" y="429.9" font-size="6" text-anchor="end">10</text>
<text x="583" y="398.7" font-size="6" text-anchor="end">15</text>
<text x="583" y="367.5" font-size="6" text-anchor="end">20</text>
<text x="583" y="336.4" font-size="6" text-anchor="end">25</text>
<text x="583" y="305.2" font-size="6" text-anchor="end">30</text>
<text x="583" y="274.0" font-size="6" text-anchor="end">35</text>
<text x="583" y="242.8" font-size="6" text-anchor="end">40</text>
<text x="583" y="211.7" font-size="6" text-anchor="end">45</text>
<text x="583" y="180.5" font-size="6" text-anchor="end">50</text>
<text x="586.0" y="495.3" font-size="6" text-anchor="middle">1</text>
<text x="604.2" y="495.3" font-size="6" text-anchor="middle">0.9</text>
<text x="622.5" y="495.3" font-size="6" text-anchor="middle">0.8</text>
<text x="640.7" y="495.3" font-size="6" text-anchor="middle">0.7</text>
<text x="659.0" y="495.3" font-size="6" text-anchor="middle">0.6</text>
<text x="677.2" y="495.3" font-size="6" text-anchor="middle">0.5</text>
<text x="695.4" y="495.3" font-size="6" text-anchor="middle">0.4</text>
<text x="713.7" y="495.3" font-size="6" text-anchor="middle">0.3</text>
<text x="731.9" y="495.3" font-size="6" text-anchor="middle">0.2</text>
<text x="750.2" y="495.3" font-size="6" text-anchor="middle">0.1</text>
<text x="768.4" y="495.3" font-size="6" text-anchor="middle">0</text>
<text x="767.9" y="506.2" font-size="7.2" text-anchor="end">Cos(Zenith Angle)</text>
<text transform="translate(574.4,178.8) rotate(-90)" font-size="6.6" text-anchor="end" textLength="42.5" lengthAdjust="spacingAndGlyphs">Energy (GeV)</text>
<text x="609.8" y="171.0" font-size="9" textLength="133.20000000000005" lengthAdjust="spacingAndGlyphs" fill="#222">P(ν<tspan font-size="6" dy="2">μ</tspan><tspan dy="-2"> → ν</tspan><tspan font-size="6" dy="2">μ</tspan><tspan dy="-2">) - Invertec Hierarchy</tspan></text>
<rect x="769.3" y="468.73" width="9.9" height="15.58" fill="#6300ff"/>
<rect x="769.3" y="453.45" width="9.9" height="15.58" fill="#3300ff"/>
<rect x="769.3" y="438.18" width="9.9" height="15.58" fill="#0014ff"/>
<rect x="769.3" y="422.90" width="9.9" height="15.58" fill="#0044ff"/>
<rect x="769.3" y="407.62" width="9.9" height="15.58" fill="#008bff"/>
<rect x="769.3" y="392.35" width="9.9" height="15.58" fill="#00bbff"/>
<rect x="769.3" y="377.07" width="9.9" height="15.58" fill="#00fffc"/>
<rect x="769.3" y="361.80" width="9.9" height="15.58" fill="#00ffcc"/>
<rect x="769.3" y="346.52" width="9.9" height="15.58" fill="#00ff85"/>
<rect x="769.3" y="331.25" width="9.9" height="15.58" fill="#00ff55"/>
<rect x="769.3" y="315.98" width="9.9" height="15.58" fill="#00ff0e"/>
<rect x="769.3" y="300.70" width="9.9" height="15.58" fill="#22ff00"/>
<rect x="769.3" y="285.43" width="9.9" height="15.58" fill="#69ff00"/>
<rect x="769.3" y="270.15" width="9.9" height="15.58" fill="#99ff00"/>
<rect x="769.3" y="254.88" width="9.9" height="15.58" fill="#e0ff00"/>
<rect x="769.3" y="239.60" width="9.9" height="15.58" fill="#ffee00"/>
<rect x="769.3" y="224.32" width="9.9" height="15.58" fill="#ffa700"/>
<rect x="769.3" y="209.05" width="9.9" height="15.58" fill="#ff7700"/>
<rect x="769.3" y="193.77" width="9.9" height="15.58" fill="#ff3000"/>
<rect x="769.3" y="178.50" width="9.9" height="15.58" fill="#ff0000"/>
<line x1="779.2" y1="178.5" x2="779.2" y2="484.0" stroke="#000" stroke-width="1.2"/>
<path d="M779.2,484.0h-6M779.2,453.4h-6M779.2,422.9h-6M779.2,392.4h-6M779.2,361.8h-6M779.2,331.2h-6M779.2,300.7h-6M779.2,270.1h-6M779.2,239.6h-6M779.2,209.1h-6M779.2,178.5h-6" stroke="#000" stroke-width="1"/>
<text x="780.7" y="486.0" font-size="6">0</text>
<text x="780.7" y="455.4" font-size="6">0.1</text>
<text x="780.7" y="424.9" font-size="6">0.2</text>
<text x="780.7" y="394.4" font-size="6">0.3</text>
<text x="780.7" y="363.8" font-size="6">0.4</text>
<text x="780.7" y="333.2" font-size="6">0.5</text>
<text x="780.7" y="302.7" font-size="6">0.6</text>
<text x="780.7" y="272.1" font-size="6">0.7</text>
<text x="780.7" y="241.6" font-size="6">0.8</text>
<text x="780.7" y="211.1" font-size="6">0.9</text>
<clipPath id="ec"><rect x="59.6" y="289.5" width="228.9" height="172.7"/></clipPath>
<g clip-path="url(#ec)">
<ellipse cx="150.9" cy="377.0" rx="91.11" ry="86.14" fill="#5d1aff"/>
<ellipse cx="150.9" cy="377.0" rx="91.03" ry="86.07" fill="#1a57ff"/>
<ellipse cx="150.9" cy="377.0" rx="90.89" ry="85.93" fill="#1a6cff"/>
<ellipse cx="150.9" cy="377.0" rx="90.75" ry="85.80" fill="#1a97ff"/>
<ellipse cx="150.9" cy="377.0" rx="87.96" ry="83.16" fill="#1aacff"/>
<ellipse cx="150.9" cy="377.0" rx="85.39" ry="80.73" fill="#1ac2ff"/>
<ellipse cx="150.9" cy="377.0" rx="82.74" ry="78.23" fill="#1ad7ff"/>
<ellipse cx="150.9" cy="377.0" rx="81.52" ry="77.08" fill="#1aedff"/>
<ellipse cx="150.9" cy="377.0" rx="79.02" ry="74.71" fill="#1afffc"/>
<ellipse cx="150.9" cy="377.0" rx="72.52" ry="68.56" fill="#1affe7"/>
<ellipse cx="150.9" cy="377.0" rx="65.44" ry="61.87" fill="#1affd1"/>
<ellipse cx="150.9" cy="377.0" rx="58.00" ry="54.84" fill="#1affbc"/>
<ellipse cx="150.9" cy="377.0" rx="50.42" ry="47.67" fill="#1affa6"/>
<ellipse cx="150.9" cy="377.0" rx="49.78" ry="47.06" fill="#e3ff1a"/>
<ellipse cx="150.9" cy="377.0" rx="48.56" ry="45.91" fill="#f9ff1a"/>
<ellipse cx="150.9" cy="377.0" rx="46.06" ry="43.55" fill="#fff01a"/>
<ellipse cx="150.9" cy="377.0" rx="43.34" ry="40.98" fill="#ffda1a"/>
<ellipse cx="150.9" cy="377.0" rx="40.41" ry="38.21" fill="#ffc41a"/>
<ellipse cx="150.9" cy="377.0" rx="37.12" ry="35.10" fill="#ffb01a"/>
<ellipse cx="150.9" cy="377.0" rx="33.48" ry="31.65" fill="#ff9a1a"/>
<ellipse cx="150.9" cy="377.0" rx="29.26" ry="27.66" fill="#ff851a"/>
<ellipse cx="150.9" cy="377.0" rx="24.32" ry="23.00" fill="#ff6f1a"/>
<ellipse cx="150.9" cy="377.0" rx="18.10" ry="17.12" fill="#ff591a"/>
<ellipse cx="150.9" cy="377.0" rx="17.46" ry="16.51" fill="#ff2f1a"/>
<ellipse cx="150.9" cy="377.0" rx="11.95" ry="11.30" fill="#ff1a1a"/>
</g>
<path d="M150.9,290.9V462.2M150.9,290.9L203.0,306.4M150.9,290.9L217.7,318.4M150.9,290.9L229.8,333.9M150.9,290.9L238.4,352.9M150.9,290.9L240.9,363.6M150.9,290.9L242.0,375.3M150.9,290.9L241.3,387.8M150.9,290.9L238.4,401.1M150.9,290.9L232.5,415.3M150.9,290.9L222.4,430.4M150.9,290.9L205.0,446.3" stroke="#000" stroke-width="1.05" fill="none"/>
<rect x="205.2" y="297.7" width="21.2" height="9" fill="#222"/>
<rect x="203.9" y="296.4" width="21.2" height="9" fill="#fff" stroke="#888" stroke-width="0.6"/>
<text x="214.5" y="303.5" font-size="7.4" font-weight="bold" text-anchor="middle" textLength="16" lengthAdjust="spacingAndGlyphs" stroke="#000" stroke-width="0.25">-0.30</text>
<rect x="219.9" y="309.7" width="21.2" height="9" fill="#222"/>
<rect x="218.6" y="308.4" width="21.2" height="9" fill="#fff" stroke="#888" stroke-width="0.6"/>
<text x="229.2" y="315.5" font-size="7.4" font-weight="bold" text-anchor="middle" textLength="16" lengthAdjust="spacingAndGlyphs" stroke="#000" stroke-width="0.25">-0.40</text>
<rect x="232.0" y="325.2" width="21.2" height="9" fill="#222"/>
<rect x="230.7" y="323.9" width="21.2" height="9" fill="#fff" stroke="#888" stroke-width="0.6"/>
<text x="241.3" y="331.0" font-size="7.4" font-weight="bold" text-anchor="middle" textLength="16" lengthAdjust="spacingAndGlyphs" stroke="#000" stroke-width="0.25">-0.50</text>
<rect x="240.6" y="344.2" width="21.2" height="9" fill="#222"/>
<rect x="239.3" y="342.9" width="21.2" height="9" fill="#fff" stroke="#888" stroke-width="0.6"/>
<text x="249.9" y="350.0" font-size="7.4" font-weight="bold" text-anchor="middle" textLength="16" lengthAdjust="spacingAndGlyphs" stroke="#000" stroke-width="0.25">-0.60</text>
<rect x="243.1" y="354.9" width="21.2" height="9" fill="#222"/>
<rect x="241.8" y="353.6" width="21.2" height="9" fill="#fff" stroke="#888" stroke-width="0.6"/>
<text x="252.4" y="360.7" font-size="7.4" font-weight="bold" text-anchor="middle" textLength="16" lengthAdjust="spacingAndGlyphs" stroke="#000" stroke-width="0.25">-0.65</text>
<rect x="244.2" y="366.6" width="21.2" height="9" fill="#222"/>
<rect x="242.9" y="365.3" width="21.2" height="9" fill="#fff" stroke="#888" stroke-width="0.6"/>
<text x="253.5" y="372.4" font-size="7.4" font-weight="bold" text-anchor="middle" textLength="16" lengthAdjust="spacingAndGlyphs" stroke="#000" stroke-width="0.25">-0.70</text>
<rect x="243.5" y="379.1" width="21.2" height="9" fill="#222"/>
<rect x="242.2" y="377.8" width="21.2" height="9" fill="#fff" stroke="#888" stroke-width="0.6"/>
<text x="252.8" y="384.9" font-size="7.4" font-weight="bold" text-anchor="middle" textLength="16" lengthAdjust="spacingAndGlyphs" stroke="#000" stroke-width="0.25">-0.75</text>
<rect x="240.6" y="392.4" width="21.2" height="9" fill="#222"/>
<rect x="239.3" y="391.1" width="21.2" height="9" fill="#fff" stroke="#888" stroke-width="0.6"/>
<text x="249.9" y="398.2" font-size="7.4" font-weight="bold" text-anchor="middle" textLength="16" lengthAdjust="spacingAndGlyphs" stroke="#000" stroke-width="0.25">-0.80</text>
<rect x="234.7" y="406.6" width="21.2" height="9" fill="#222"/>
<rect x="233.4" y="405.3" width="21.2" height="9" fill="#fff" stroke="#888" stroke-width="0.6"/>
<text x="244.0" y="412.4" font-size="7.4" font-weight="bold" text-anchor="middle" textLength="16" lengthAdjust="spacingAndGlyphs" stroke="#000" stroke-width="0.25">-0.85</text>
<rect x="224.6" y="421.7" width="21.2" height="9" fill="#222"/>
<rect x="223.3" y="420.4" width="21.2" height="9" fill="#fff" stroke="#888" stroke-width="0.6"/>
<text x="233.9" y="427.5" font-size="7.4" font-weight="bold" text-anchor="middle" textLength="16" lengthAdjust="spacingAndGlyphs" stroke="#000" stroke-width="0.25">-0.90</text>
<rect x="207.2" y="437.6" width="21.2" height="9" fill="#222"/>
<rect x="205.9" y="436.3" width="21.2" height="9" fill="#fff" stroke="#888" stroke-width="0.6"/>
<text x="216.5" y="443.4" font-size="7.4" font-weight="bold" text-anchor="middle" textLength="16" lengthAdjust="spacingAndGlyphs" stroke="#000" stroke-width="0.25">-0.95</text>
<rect x="153.1" y="454.6" width="21.2" height="9" fill="#222"/>
<rect x="151.8" y="453.3" width="21.2" height="9" fill="#fff" stroke="#888" stroke-width="0.6"/>
<text x="162.4" y="460.4" font-size="7.4" font-weight="bold" text-anchor="middle" textLength="16" lengthAdjust="spacingAndGlyphs" stroke="#000" stroke-width="0.25">-1.00</text>
<path d="M59.6,462.2V289.5H288.5" stroke="#555" stroke-width="0.8" fill="none"/>
<path d="M59.6,292.5V462.2H288.5" stroke="#333" stroke-width="0.9" fill="none"/>
<path d="M59.6,458.1h5M59.6,451.4h2.5M59.6,444.6h2.5M59.6,437.8h2.5M59.6,431.1h5M59.6,424.3h2.5M59.6,417.6h2.5M59.6,410.8h2.5M59.6,404.0h5M59.6,397.3h2.5M59.6,390.5h2.5M59.6,383.8h2.5M59.6,377.0h5M59.6,370.2h2.5M59.6,363.5h2.5M59.6,356.7h2.5M59.6,350.0h5M59.6,343.2h2.5M59.6,336.4h2.5M59.6,329.7h2.5M59.6,322.9h5M59.6,316.2h2.5M59.6,309.4h2.5M59.6,302.6h2.5M59.6,295.9h5M65.1,462.2v-5M72.2,462.2v-2.5M79.4,462.2v-2.5M86.6,462.2v-2.5M93.7,462.2v-5M100.8,462.2v-2.5M108.0,462.2v-2.5M115.2,462.2v-2.5M122.3,462.2v-5M129.5,462.2v-2.5M136.6,462.2v-2.5M143.8,462.2v-2.5M150.9,462.2v-5M158.1,462.2v-2.5M165.2,462.2v-2.5M172.3,462.2v-2.5M179.5,462.2v-5M186.7,462.2v-2.5M193.8,462.2v-2.5M201.0,462.2v-2.5M208.1,462.2v-5M215.2,462.2v-2.5M222.4,462.2v-2.5M229.6,462.2v-2.5M236.7,462.2v-5M243.9,462.2v-2.5M251.0,462.2v-2.5M258.1,462.2v-2.5M265.3,462.2v-5M272.4,462.2v-2.5M279.6,462.2v-2.5M286.8,462.2v-2.5" stroke="#444" stroke-width="0.7" fill="none"/>
<text x="56.800000000000004" y="298.1" font-size="7.6" text-anchor="end" stroke="#000" stroke-width="0.2">6000</text>
<text x="56.800000000000004" y="325.1" font-size="7.6" text-anchor="end" stroke="#000" stroke-width="0.2">4000</text>
<text x="56.800000000000004" y="352.2" font-size="7.6" text-anchor="end" stroke="#000" stroke-width="0.2">2000</text>
<text x="56.800000000000004" y="379.2" font-size="7.6" text-anchor="end" stroke="#000" stroke-width="0.2">0</text>
<text x="56.800000000000004" y="406.2" font-size="7.6" text-anchor="end" stroke="#000" stroke-width="0.2">-2000</text>
<text x="56.800000000000004" y="433.3" font-size="7.6" text-anchor="end" stroke="#000" stroke-width="0.2">-4000</text>
<text x="56.800000000000004" y="460.3" font-size="7.6" text-anchor="end" stroke="#000" stroke-width="0.2">-6000</text>
<text x="65.1" y="470.8" font-size="7.6" text-anchor="middle" stroke="#000" stroke-width="0.2">-6000</text>
<text x="93.7" y="470.8" font-size="7.6" text-anchor="middle" stroke="#000" stroke-width="0.2">-4000</text>
<text x="122.3" y="470.8" font-size="7.6" text-anchor="middle" stroke="#000" stroke-width="0.2">-2000</text>
<text x="150.9" y="470.8" font-size="7.6" text-anchor="middle" stroke="#000" stroke-width="0.2">0</text>
<text x="179.5" y="470.8" font-size="7.6" text-anchor="middle" stroke="#000" stroke-width="0.2">2000</text>
<text x="208.1" y="470.8" font-size="7.6" text-anchor="middle" stroke="#000" stroke-width="0.2">4000</text>
<text x="236.7" y="470.8" font-size="7.6" text-anchor="middle" stroke="#000" stroke-width="0.2">6000</text>
<text x="265.3" y="470.8" font-size="7.6" text-anchor="middle" stroke="#000" stroke-width="0.2">8000</text>
<text x="288.5" y="479.7" font-size="7.4" text-anchor="end" textLength="52" lengthAdjust="spacingAndGlyphs">distance in km</text>
<text transform="translate(38,290.0) rotate(-90)" font-size="7.4" text-anchor="end" textLength="51.5" lengthAdjust="spacingAndGlyphs">distance in km</text>
<rect x="288.6" y="458.36" width="15.9" height="3.74" fill="#9d1aff"/>
<rect x="288.6" y="454.93" width="15.9" height="3.74" fill="#871aff"/>
<rect x="288.6" y="451.49" width="15.9" height="3.74" fill="#731aff"/>
<rect x="288.6" y="448.06" width="15.9" height="3.74" fill="#5d1aff"/>
<rect x="288.6" y="444.62" width="15.9" height="3.74" fill="#471aff"/>
<rect x="288.6" y="441.18" width="15.9" height="3.74" fill="#321aff"/>
<rect x="288.6" y="437.75" width="15.9" height="3.74" fill="#1c1aff"/>
<rect x="288.6" y="434.31" width="15.9" height="3.74" fill="#1a2cff"/>
<rect x="288.6" y="430.88" width="15.9" height="3.74" fill="#1a41ff"/>
<rect x="288.6" y="427.44" width="15.9" height="3.74" fill="#1a57ff"/>
<rect x="288.6" y="424.00" width="15.9" height="3.74" fill="#1a6cff"/>
<rect x="288.6" y="420.57" width="15.9" height="3.74" fill="#1a82ff"/>
<rect x="288.6" y="417.13" width="15.9" height="3.74" fill="#1a97ff"/>
<rect x="288.6" y="413.70" width="15.9" height="3.74" fill="#1aacff"/>
<rect x="288.6" y="410.26" width="15.9" height="3.74" fill="#1ac2ff"/>
<rect x="288.6" y="406.82" width="15.9" height="3.74" fill="#1ad7ff"/>
<rect x="288.6" y="403.39" width="15.9" height="3.74" fill="#1aedff"/>
<rect x="288.6" y="399.95" width="15.9" height="3.74" fill="#1afffc"/>
<rect x="288.6" y="396.52" width="15.9" height="3.74" fill="#1affe7"/>
<rect x="288.6" y="393.08" width="15.9" height="3.74" fill="#1affd1"/>
<rect x="288.6" y="389.64" width="15.9" height="3.74" fill="#1affbc"/>
<rect x="288.6" y="386.21" width="15.9" height="3.74" fill="#1affa6"/>
<rect x="288.6" y="382.77" width="15.9" height="3.74" fill="#1aff91"/>
<rect x="288.6" y="379.34" width="15.9" height="3.74" fill="#1aff7c"/>
<rect x="288.6" y="375.90" width="15.9" height="3.74" fill="#1aff66"/>
<rect x="288.6" y="372.46" width="15.9" height="3.74" fill="#1aff50"/>
<rect x="288.6" y="369.03" width="15.9" height="3.74" fill="#1aff3b"/>
<rect x="288.6" y="365.59" width="15.9" height="3.74" fill="#1aff26"/>
<rect x="288.6" y="362.16" width="15.9" height="3.74" fill="#22ff1a"/>
<rect x="288.6" y="358.72" width="15.9" height="3.74" fill="#38ff1a"/>
<rect x="288.6" y="355.28" width="15.9" height="3.74" fill="#4eff1a"/>
<rect x="288.6" y="351.85" width="15.9" height="3.74" fill="#63ff1a"/>
<rect x="288.6" y="348.41" width="15.9" height="3.74" fill="#78ff1a"/>
<rect x="288.6" y="344.98" width="15.9" height="3.74" fill="#8eff1a"/>
<rect x="288.6" y="341.54" width="15.9" height="3.74" fill="#a3ff1a"/>
<rect x="288.6" y="338.10" width="15.9" height="3.74" fill="#b9ff1a"/>
<rect x="288.6" y="334.67" width="15.9" height="3.74" fill="#ceff1a"/>
<rect x="288.6" y="331.23" width="15.9" height="3.74" fill="#e3ff1a"/>
<rect x="288.6" y="327.80" width="15.9" height="3.74" fill="#f9ff1a"/>
<rect x="288.6" y="324.36" width="15.9" height="3.74" fill="#fff01a"/>
<rect x="288.6" y="320.92" width="15.9" height="3.74" fill="#ffda1a"/>
<rect x="288.6" y="317.49" width="15.9" height="3.74" fill="#ffc41a"/>
<rect x="288.6" y="314.05" width="15.9" height="3.74" fill="#ffb01a"/>
<rect x="288.6" y="310.62" width="15.9" height="3.74" fill="#ff9a1a"/>
<rect x="288.6" y="307.18" width="15.9" height="3.74" fill="#ff851a"/>
<rect x="288.6" y="303.74" width="15.9" height="3.74" fill="#ff6f1a"/>
<rect x="288.6" y="300.31" width="15.9" height="3.74" fill="#ff591a"/>
<rect x="288.6" y="296.87" width="15.9" height="3.74" fill="#ff451a"/>
<rect x="288.6" y="293.44" width="15.9" height="3.74" fill="#ff2f1a"/>
<rect x="288.6" y="290.00" width="15.9" height="3.74" fill="#ff1a1a"/>
<path d="M288.6,461.8V290H304.5V461.8Z" stroke="#777" stroke-width="0.5" fill="none"/>
<text x="306.0" y="465.7" font-size="7.6" stroke="#000" stroke-width="0.15">0</text>
<text x="306.0" y="439.7" font-size="7.6" stroke="#000" stroke-width="0.15">2</text>
<text x="306.0" y="413.6" font-size="7.6" stroke="#000" stroke-width="0.15">4</text>
<text x="306.0" y="387.6" font-size="7.6" stroke="#000" stroke-width="0.15">6</text>
<text x="306.0" y="361.6" font-size="7.6" stroke="#000" stroke-width="0.15">8</text>
<text x="306.0" y="335.5" font-size="7.6" stroke="#000" stroke-width="0.15">10</text>
<text x="306.0" y="309.5" font-size="7.6" stroke="#000" stroke-width="0.15">12</text>
<path d="M304.5,461.8h-5M304.5,435.8h-5M304.5,409.7h-5M304.5,383.7h-5M304.5,357.7h-5M304.5,331.6h-5M304.5,305.6h-5" stroke="#000" stroke-width="0.8"/>
<rect x="317.5" y="283" width="2.2" height="1" fill="#000"/>
</svg>
</body></html>
